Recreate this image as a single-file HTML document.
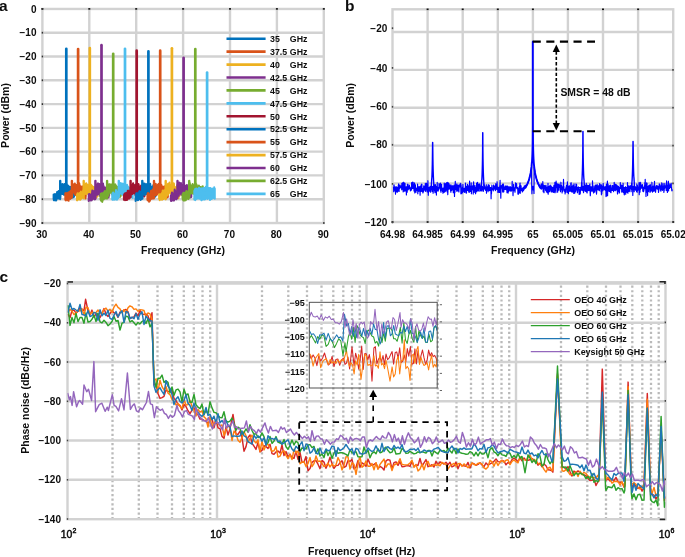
<!DOCTYPE html>
<html><head><meta charset="utf-8"><style>
html,body{margin:0;padding:0;background:#fff;width:685px;height:557px;overflow:hidden}
svg{display:block;filter:blur(0.4px)}
text{font-family:"Liberation Sans", sans-serif;fill:#0d0d0d;stroke:#0d0d0d}
</style></head><body>
<svg width="685" height="557" viewBox="0 0 685 557">
<rect width="685" height="557" fill="#fff"/>
<line x1="89.3" y1="8.95" x2="89.3" y2="223.0" stroke="#d2d2d2" stroke-width="2.4"/>
<line x1="136.2" y1="8.95" x2="136.2" y2="223.0" stroke="#d2d2d2" stroke-width="2.4"/>
<line x1="183.1" y1="8.95" x2="183.1" y2="223.0" stroke="#d2d2d2" stroke-width="2.4"/>
<line x1="230" y1="8.95" x2="230" y2="223.0" stroke="#d2d2d2" stroke-width="2.4"/>
<line x1="276.9" y1="8.95" x2="276.9" y2="223.0" stroke="#d2d2d2" stroke-width="2.4"/>
<line x1="42.4" y1="32.7" x2="323.8" y2="32.7" stroke="#d2d2d2" stroke-width="2.4"/>
<line x1="42.4" y1="56.5" x2="323.8" y2="56.5" stroke="#d2d2d2" stroke-width="2.4"/>
<line x1="42.4" y1="80.3" x2="323.8" y2="80.3" stroke="#d2d2d2" stroke-width="2.4"/>
<line x1="42.4" y1="104.1" x2="323.8" y2="104.1" stroke="#d2d2d2" stroke-width="2.4"/>
<line x1="42.4" y1="127.9" x2="323.8" y2="127.9" stroke="#d2d2d2" stroke-width="2.4"/>
<line x1="42.4" y1="151.6" x2="323.8" y2="151.6" stroke="#d2d2d2" stroke-width="2.4"/>
<line x1="42.4" y1="175.4" x2="323.8" y2="175.4" stroke="#d2d2d2" stroke-width="2.4"/>
<line x1="42.4" y1="199.2" x2="323.8" y2="199.2" stroke="#d2d2d2" stroke-width="2.4"/>
<rect x="42.4" y="8.95" width="281.4" height="214.1" fill="none" stroke="#d2d2d2" stroke-width="2.4"/>
<polygon points="53.6,194.5 53.9,194.8 54.2,194.9 54.5,194.4 54.8,195 55,193.9 55.3,194.3 55.6,194.5 55.9,195.9 56.2,196.5 56.5,196.4 56.8,195.8 57.1,191.9 57.4,194.8 57.7,192.1 58,193.7 58.3,193.1 58.6,190.9 58.9,192.1 59.2,192.7 59.5,192 59.8,193.4 60.1,190.6 60.4,191.2 60.7,186.1 61,184.6 61.3,185.3 61.6,185.6 61.9,185.5 62.2,183.9 62.5,185.2 62.8,185.3 63.1,186 63.4,184.5 63.7,186.8 64,184.7 64.3,185.9 64.6,184.1 64.8,185.8 65.1,185.7 65.4,185.9 65.7,185 66,185.6 66.3,185.4 66.6,184.2 66.9,185.4 67.2,185.8 67.5,185.4 67.8,186.8 68.1,187.2 68.4,185.7 68.7,187.6 69,188.7 69.3,187.6 69.6,188 69.9,187 70.2,188.9 70.5,187.8 70.8,187.5 71.1,186.8 71.4,187.7 71.7,187.9 72,189 72.3,190.1 72.6,189.7 72.9,188.7 73.2,187.7 73.5,186.5 73.8,187.9 74.1,188 74.1,196.7 73.8,195.9 73.5,194.1 73.2,197.3 72.9,194.8 72.6,194.8 72.3,194.7 72,195.3 71.7,197.8 71.4,196.3 71.1,195.4 70.8,196.6 70.5,196.8 70.2,195.7 69.9,195.1 69.6,195.9 69.3,195.1 69,196.3 68.7,193.2 68.4,193.8 68.1,195 67.8,192.4 67.5,192.2 67.2,191.7 66.9,192.1 66.6,192.1 66.3,193.3 66,194 65.7,192.9 65.4,193.1 65.1,191.2 64.8,193.2 64.6,192.1 64.3,192.9 64,194.9 63.7,193.6 63.4,191.6 63.1,193 62.8,194.1 62.5,193.3 62.2,193.5 61.9,192.1 61.6,192.1 61.3,192.2 61,194.1 60.7,190.7 60.4,197.4 60.1,199.2 59.8,197.5 59.5,197.5 59.2,197.7 58.9,196.6 58.6,198.4 58.3,198.4 58,198.1 57.7,197.4 57.4,198.1 57.1,197.8 56.8,198.9 56.5,199.5 56.2,200.6 55.9,199.7 55.6,198.5 55.3,200.2 55,198.8 54.8,199.9 54.5,197.8 54.2,200.3 53.9,200.2 53.6,198.9" fill="#0072BD" stroke="#0072BD" stroke-width="2.0" stroke-linejoin="round"/>
<line x1="60.2" y1="180.9" x2="60.2" y2="192.1" stroke="#0072BD" stroke-width="2.4" stroke-linecap="round"/>
<line x1="66.3" y1="48.8" x2="66.3" y2="189.7" stroke="#0072BD" stroke-width="2.7" stroke-linecap="round"/>
<polygon points="65.3,193.3 65.6,194.5 65.9,195.1 66.2,193.1 66.5,193.4 66.8,195.2 67.1,195.1 67.4,194.9 67.7,195.9 68,192.7 68.3,195.6 68.6,193 68.9,192.3 69.1,194 69.4,192.1 69.7,192.9 70,192.7 70.3,193.3 70.6,190.7 70.9,191.8 71.2,192.6 71.5,191.4 71.8,192.2 72.1,190.8 72.4,185 72.7,186.9 73,184.4 73.3,184.8 73.6,184.5 73.9,185.9 74.2,186.8 74.5,184.9 74.8,183.4 75.1,186.6 75.4,184.5 75.7,185.4 76,187.2 76.3,185.1 76.6,185.7 76.9,186.3 77.2,185.6 77.5,187.2 77.8,185.5 78.1,186.5 78.4,186.5 78.7,185.2 79,185 79.2,183.3 79.5,184.5 79.8,185.4 80.1,185.9 80.4,187.9 80.7,188.1 81,187.8 81.3,188.5 81.6,191.3 81.9,186.4 82.2,189.1 82.5,186.6 82.8,187.7 83.1,187.8 83.4,187.2 83.7,188.9 84,188.5 84.3,189.2 84.6,187.8 84.9,186 85.2,188.3 85.5,187.4 85.8,187.5 85.8,195.7 85.5,198.4 85.2,194.8 84.9,194.1 84.6,197.1 84.3,195.8 84,194.5 83.7,195.1 83.4,195.4 83.1,194.8 82.8,195.7 82.5,195.5 82.2,196.7 81.9,195.6 81.6,196.2 81.3,197.8 81,198 80.7,194.4 80.4,195.6 80.1,192 79.8,194.3 79.5,192.9 79.2,194.3 79,192.4 78.7,193.6 78.4,193.7 78.1,193.5 77.8,192.4 77.5,192.3 77.2,193.8 76.9,194.4 76.6,192.8 76.3,192.7 76,195.1 75.7,191.9 75.4,193.9 75.1,194.6 74.8,191.2 74.5,191.9 74.2,191.9 73.9,191.2 73.6,191.8 73.3,192 73,192.9 72.7,191.8 72.4,193.4 72.1,196.8 71.8,197.5 71.5,197.9 71.2,198.1 70.9,197.6 70.6,198.1 70.3,198.9 70,197.7 69.7,197.1 69.4,197.5 69.1,196.8 68.9,198.2 68.6,200.8 68.3,198.9 68,199.9 67.7,200.1 67.4,199.5 67.1,199.2 66.8,199.6 66.5,199.2 66.2,199.4 65.9,200.6 65.6,200.1 65.3,199.8" fill="#D95319" stroke="#D95319" stroke-width="2.0" stroke-linejoin="round"/>
<line x1="71.9" y1="180.9" x2="71.9" y2="192.1" stroke="#D95319" stroke-width="2.4" stroke-linecap="round"/>
<line x1="78.1" y1="49" x2="78.1" y2="189.7" stroke="#D95319" stroke-width="2.7" stroke-linecap="round"/>
<polygon points="77,194.4 77.3,194.7 77.6,193.2 77.9,194.5 78.2,195.1 78.5,196.4 78.8,193.4 79.1,193.7 79.4,194.2 79.7,194.7 80,192.8 80.3,194.5 80.6,192.8 80.9,191.5 81.2,192.5 81.5,192.2 81.8,192.5 82.1,192.3 82.4,193.8 82.7,193 83,192.9 83.2,190.5 83.5,192.7 83.8,192.1 84.1,184.9 84.4,185.7 84.7,186.5 85,186.8 85.3,184.1 85.6,184.3 85.9,185.1 86.2,183.3 86.5,186.1 86.8,185.4 87.1,184.4 87.4,186.3 87.7,185.1 88,185.2 88.3,185.7 88.6,185.2 88.9,184.9 89.2,184.8 89.5,187.2 89.8,187.5 90.1,184.5 90.4,185.6 90.7,185.8 91,184.7 91.3,185.2 91.6,186.7 91.9,185.6 92.2,187.7 92.5,186.6 92.8,186.6 93.1,187.3 93.3,188.2 93.6,189.2 93.9,187 94.2,187.6 94.5,189.7 94.8,187.6 95.1,188.2 95.4,187.6 95.7,188.8 96,187.3 96.3,186.4 96.6,186.4 96.9,188.1 97.2,185.1 97.5,186.1 97.5,196.3 97.2,195.8 96.9,196.9 96.6,196.1 96.3,195 96,197.7 95.7,194.8 95.4,196.9 95.1,194.5 94.8,195.2 94.5,196.5 94.2,194.6 93.9,195.9 93.6,197.2 93.3,196 93.1,195.8 92.8,196.2 92.5,194.5 92.2,196.9 91.9,194 91.6,192.9 91.3,193.6 91,190.4 90.7,193.5 90.4,194.6 90.1,192 89.8,194.3 89.5,192.4 89.2,192.7 88.9,190.8 88.6,192.9 88.3,192.8 88,192.5 87.7,193 87.4,193.3 87.1,193.8 86.8,191.2 86.5,194.2 86.2,193 85.9,192.2 85.6,191.2 85.3,193.8 85,194 84.7,192.5 84.4,193 84.1,190.6 83.8,198.6 83.5,197.3 83.2,197.9 83,196.9 82.7,196.6 82.4,197.8 82.1,197.4 81.8,197.8 81.5,196.6 81.2,198.7 80.9,197.5 80.6,195.8 80.3,199.8 80,198.6 79.7,199.2 79.4,199.5 79.1,199.1 78.8,198.2 78.5,197.5 78.2,199.6 77.9,197.6 77.6,198.9 77.3,199.4 77,200.4" fill="#EDB120" stroke="#EDB120" stroke-width="2.0" stroke-linejoin="round"/>
<line x1="83.7" y1="180.9" x2="83.7" y2="192.1" stroke="#EDB120" stroke-width="2.4" stroke-linecap="round"/>
<line x1="89.8" y1="48.1" x2="89.8" y2="189.7" stroke="#EDB120" stroke-width="2.7" stroke-linecap="round"/>
<polygon points="88.7,194.3 89,194.9 89.3,195.8 89.6,194.1 89.9,195 90.2,194.5 90.5,195.3 90.8,195.6 91.1,194.5 91.4,196.1 91.7,195.2 92,193.5 92.3,190.5 92.6,191.7 92.9,192.9 93.2,192.2 93.5,192.1 93.8,192.2 94.1,191.1 94.4,192.1 94.7,191.4 95,194 95.3,190.9 95.6,193.2 95.9,186.6 96.2,186.3 96.5,184.8 96.8,185 97.1,186.7 97.4,183.4 97.6,185.2 97.9,185.3 98.2,183.4 98.5,187.1 98.8,186.9 99.1,184.5 99.4,186.9 99.7,183.9 100,184.9 100.3,184.3 100.6,185.7 100.9,186.5 101.2,184.5 101.5,186.4 101.8,185.8 102.1,185.5 102.4,186.6 102.7,185.5 103,183.4 103.3,186.2 103.6,186.1 103.9,187.9 104.2,187.2 104.5,187.5 104.8,188.6 105.1,188.1 105.4,187.6 105.7,189.3 106,189.2 106.3,188.1 106.6,187.7 106.9,188 107.2,188.2 107.5,188.1 107.7,187.7 108,187.5 108.3,188 108.6,187.2 108.9,187.3 109.2,187.5 109.2,195.2 108.9,195.4 108.6,197.4 108.3,196.1 108,195.5 107.7,196.9 107.5,196.2 107.2,196.7 106.9,196.1 106.6,195.5 106.3,197.9 106,196.3 105.7,195.6 105.4,195.7 105.1,196.2 104.8,196.7 104.5,195.8 104.2,195.8 103.9,196.8 103.6,193.6 103.3,192.9 103,192.9 102.7,191.4 102.4,192.9 102.1,192.9 101.8,192.8 101.5,194.8 101.2,193.2 100.9,191.3 100.6,194.4 100.3,193.9 100,193.9 99.7,195.8 99.4,193.2 99.1,193.8 98.8,192 98.5,193.9 98.2,193.9 97.9,192.7 97.6,192.8 97.4,193.1 97.1,194.8 96.8,193.8 96.5,193.6 96.2,193.6 95.9,192.4 95.6,198.3 95.3,199.2 95,197.6 94.7,198.7 94.4,199.4 94.1,198.5 93.8,197.5 93.5,198.7 93.2,196.9 92.9,196.9 92.6,197.8 92.3,198.4 92,199.8 91.7,200.3 91.4,199.2 91.1,198.3 90.8,200.6 90.5,199.5 90.2,199.8 89.9,199.7 89.6,200.3 89.3,198.1 89,198.2 88.7,201" fill="#7E2F8E" stroke="#7E2F8E" stroke-width="2.0" stroke-linejoin="round"/>
<line x1="95.4" y1="180.9" x2="95.4" y2="192.1" stroke="#7E2F8E" stroke-width="2.4" stroke-linecap="round"/>
<line x1="101.5" y1="45.2" x2="101.5" y2="189.7" stroke="#7E2F8E" stroke-width="2.7" stroke-linecap="round"/>
<polygon points="100.5,195.2 100.8,193.8 101.1,194.2 101.4,193.9 101.7,193.4 101.9,196.1 102.2,194.6 102.5,194.1 102.8,195.8 103.1,193.1 103.4,194.2 103.7,192.8 104,192.3 104.3,192.8 104.6,191.7 104.9,191 105.2,192.1 105.5,191.5 105.8,191.7 106.1,191.7 106.4,193.8 106.7,192.1 107,193.9 107.3,192.7 107.6,187.8 107.9,184.5 108.2,186.1 108.5,184.6 108.8,185.6 109.1,184.7 109.4,184.2 109.7,185.1 110,186 110.3,184.5 110.6,185.6 110.9,185.2 111.2,185.5 111.5,186.5 111.7,185.6 112,184.3 112.3,186.4 112.6,186.1 112.9,184.3 113.2,184.9 113.5,184.3 113.8,184.2 114.1,186.3 114.4,186.2 114.7,185.1 115,185.3 115.3,184.4 115.6,188.3 115.9,185.4 116.2,187.7 116.5,186.2 116.8,188.8 117.1,187.3 117.4,189.6 117.7,187.1 118,188 118.3,187.1 118.6,187.3 118.9,188.2 119.2,186.6 119.5,188.6 119.8,188 120.1,189.5 120.4,188.2 120.7,186.8 121,187 121,193.4 120.7,195.8 120.4,192.9 120.1,196.8 119.8,194.9 119.5,196 119.2,195.7 118.9,196.7 118.6,196.6 118.3,196 118,195.4 117.7,196.5 117.4,197.2 117.1,196.5 116.8,195.5 116.5,195.8 116.2,195.4 115.9,193.5 115.6,194.4 115.3,193.5 115,193.2 114.7,193.8 114.4,192.1 114.1,192.6 113.8,193.8 113.5,193.1 113.2,193.3 112.9,192.3 112.6,194.4 112.3,192.4 112,194.4 111.7,192 111.5,193 111.2,191.2 110.9,191.4 110.6,192.8 110.3,190.7 110,192.8 109.7,192 109.4,192.5 109.1,191 108.8,192.2 108.5,195.7 108.2,192.8 107.9,192.4 107.6,193.2 107.3,198.5 107,197.9 106.7,197.2 106.4,196.9 106.1,198.6 105.8,197.9 105.5,196.4 105.2,196.8 104.9,198.4 104.6,197.4 104.3,197.1 104,198.9 103.7,199.3 103.4,197.3 103.1,199.6 102.8,199.9 102.5,200.8 102.2,201.9 101.9,198.2 101.7,199 101.4,198 101.1,200.8 100.8,198.8 100.5,199.5" fill="#77AC30" stroke="#77AC30" stroke-width="2.0" stroke-linejoin="round"/>
<line x1="107.1" y1="180.9" x2="107.1" y2="192.1" stroke="#77AC30" stroke-width="2.4" stroke-linecap="round"/>
<line x1="113.2" y1="53.8" x2="113.2" y2="189.7" stroke="#77AC30" stroke-width="2.7" stroke-linecap="round"/>
<polygon points="112.2,194.7 112.5,193.2 112.8,193.7 113.1,192.4 113.4,193.9 113.7,196.6 114,194.7 114.3,193.7 114.6,196.3 114.9,195.3 115.2,195.1 115.5,196.9 115.8,191.8 116,190 116.3,194 116.6,193.4 116.9,192 117.2,191.7 117.5,191.8 117.8,192.4 118.1,192.7 118.4,193.9 118.7,190.1 119,190.7 119.3,186.1 119.6,185.5 119.9,185.7 120.2,185.9 120.5,186.6 120.8,183 121.1,185.7 121.4,184.7 121.7,185.6 122,185.1 122.3,183.8 122.6,185.3 122.9,183.8 123.2,186.1 123.5,184.7 123.8,183.9 124.1,184.6 124.4,186.1 124.7,186.4 125,185.8 125.3,186.1 125.6,185.1 125.9,185.6 126.1,186.2 126.4,186.7 126.7,186.1 127,184.7 127.3,187.4 127.6,187.1 127.9,186.5 128.2,187.4 128.5,189.4 128.8,188.1 129.1,189.3 129.4,187.7 129.7,189.6 130,187.9 130.3,187.7 130.6,187.2 130.9,187.8 131.2,185 131.5,188.3 131.8,187 132.1,188.3 132.4,188.8 132.7,188.3 132.7,197.9 132.4,196.7 132.1,195.7 131.8,196.9 131.5,196.5 131.2,196.7 130.9,194.6 130.6,196.4 130.3,196.3 130,196.4 129.7,196 129.4,196.9 129.1,193.9 128.8,195.4 128.5,195.8 128.2,195.2 127.9,195.2 127.6,195.6 127.3,195.5 127,192.9 126.7,194.9 126.4,192.3 126.1,193.8 125.9,194.4 125.6,191.1 125.3,192.4 125,194.4 124.7,195 124.4,192.2 124.1,193.1 123.8,194.5 123.5,192.1 123.2,193.4 122.9,194.9 122.6,193.4 122.3,193.5 122,192.7 121.7,191.8 121.4,194 121.1,192.2 120.8,192.9 120.5,193.2 120.2,192.9 119.9,192.7 119.6,192.9 119.3,191.3 119,196.8 118.7,195.4 118.4,197.6 118.1,198.2 117.8,197.6 117.5,197.7 117.2,199.2 116.9,199.7 116.6,198.1 116.3,198.5 116,197.5 115.8,196.4 115.5,197.9 115.2,199.6 114.9,199.6 114.6,198.8 114.3,199.6 114,198.8 113.7,198.5 113.4,198.5 113.1,197.4 112.8,199.8 112.5,198.7 112.2,199.6" fill="#4DBEEE" stroke="#4DBEEE" stroke-width="2.0" stroke-linejoin="round"/>
<line x1="118.8" y1="180.9" x2="118.8" y2="192.1" stroke="#4DBEEE" stroke-width="2.4" stroke-linecap="round"/>
<line x1="125" y1="48.8" x2="125" y2="189.7" stroke="#4DBEEE" stroke-width="2.7" stroke-linecap="round"/>
<polygon points="123.9,196 124.2,194.3 124.5,196.4 124.8,193.6 125.1,194.5 125.4,193.8 125.7,195.7 126,192.9 126.3,193.2 126.6,193.5 126.9,194.6 127.2,193.6 127.5,192.2 127.8,190.8 128.1,193.9 128.4,192.1 128.7,190.7 129,191.2 129.3,191.2 129.6,191.3 129.9,191.9 130.1,193.1 130.4,191.6 130.7,192.5 131,185.7 131.3,185.6 131.6,185.4 131.9,186.5 132.2,184.7 132.5,185.2 132.8,184.2 133.1,183.3 133.4,184.6 133.7,185.3 134,186.8 134.3,185.5 134.6,185.2 134.9,185.1 135.2,185.4 135.5,186 135.8,184.5 136.1,185.3 136.4,184.3 136.7,186.2 137,184.1 137.3,184.1 137.6,186.6 137.9,185.5 138.2,185.8 138.5,184.1 138.8,185 139.1,188.5 139.4,187.8 139.7,188.3 140,187.8 140.2,188.3 140.5,187.6 140.8,186.5 141.1,185.4 141.4,186.9 141.7,185.8 142,189.9 142.3,187.1 142.6,187 142.9,187.3 143.2,187.9 143.5,190.2 143.8,188.9 144.1,188 144.4,187.4 144.4,196.6 144.1,196.6 143.8,194.6 143.5,195 143.2,194.5 142.9,195 142.6,195.7 142.3,194.8 142,196.7 141.7,193.8 141.4,196 141.1,196.5 140.8,195 140.5,194.7 140.2,194.5 140,196.3 139.7,195.6 139.4,196.2 139.1,195.3 138.8,192 138.5,193.3 138.2,191.8 137.9,194.2 137.6,191.4 137.3,193.5 137,194.3 136.7,193 136.4,193.3 136.1,192.7 135.8,192 135.5,195.1 135.2,192.3 134.9,192 134.6,193.5 134.3,191.3 134,191.7 133.7,191.1 133.4,192.7 133.1,193 132.8,190.3 132.5,193.9 132.2,193.9 131.9,193.1 131.6,191.9 131.3,194 131,192.7 130.7,197.2 130.4,196.8 130.1,197.7 129.9,195.6 129.6,197.3 129.3,195.3 129,198.7 128.7,197.2 128.4,197.4 128.1,197.9 127.8,198.1 127.5,197.2 127.2,199.8 126.9,196.6 126.6,199.9 126.3,199.7 126,199 125.7,200.1 125.4,199.8 125.1,200.2 124.8,198.6 124.5,199.7 124.2,199.4 123.9,199.7" fill="#A2142F" stroke="#A2142F" stroke-width="2.0" stroke-linejoin="round"/>
<line x1="130.6" y1="180.9" x2="130.6" y2="192.1" stroke="#A2142F" stroke-width="2.4" stroke-linecap="round"/>
<line x1="136.7" y1="50.7" x2="136.7" y2="189.7" stroke="#A2142F" stroke-width="2.7" stroke-linecap="round"/>
<polygon points="135.6,195.4 135.9,194.5 136.2,193.4 136.5,193.3 136.8,194.6 137.1,193.3 137.4,194.7 137.7,194.4 138,193.4 138.3,194 138.6,194.1 138.9,194.9 139.2,191.7 139.5,191.1 139.8,192.5 140.1,192 140.4,192.4 140.7,192.3 141,191.7 141.3,192.8 141.6,191.8 141.9,194 142.2,194.3 142.5,190.4 142.8,184.7 143.1,185.1 143.4,185.5 143.7,183.5 144,185.3 144.3,184.8 144.5,184.5 144.8,183.6 145.1,185.7 145.4,185.8 145.7,185.7 146,185.3 146.3,184.2 146.6,186.4 146.9,184.3 147.2,186.2 147.5,184.5 147.8,186.6 148.1,186.2 148.4,184.6 148.7,184.9 149,184.2 149.3,184.5 149.6,186.2 149.9,185.5 150.2,183.8 150.5,186.6 150.8,188 151.1,187.5 151.4,186.6 151.7,187.8 152,187.7 152.3,188.8 152.6,187 152.9,188.5 153.2,185.3 153.5,187.5 153.8,187 154.1,188 154.4,188 154.6,187 154.9,188.3 155.2,187.9 155.5,188 155.8,187.4 156.1,187.4 156.1,195.6 155.8,195.1 155.5,194.5 155.2,196.6 154.9,196.9 154.6,196.1 154.4,196.2 154.1,196.2 153.8,195.4 153.5,193 153.2,197.2 152.9,193.5 152.6,195.3 152.3,196.3 152,195.4 151.7,196.4 151.4,197.9 151.1,195.9 150.8,195.5 150.5,193.1 150.2,195.4 149.9,194.5 149.6,193.8 149.3,191.6 149,194 148.7,190.8 148.4,193.5 148.1,195.2 147.8,194.5 147.5,193.2 147.2,191.8 146.9,193.7 146.6,193.2 146.3,194 146,190.2 145.7,194.3 145.4,193.6 145.1,191.9 144.8,194.9 144.5,192.8 144.3,193.1 144,193.8 143.7,192.6 143.4,192.2 143.1,193.1 142.8,194.3 142.5,198.7 142.2,198.6 141.9,198.7 141.6,199.1 141.3,197.8 141,198.3 140.7,199.9 140.4,199.5 140.1,197.5 139.8,197.1 139.5,198.3 139.2,195.7 138.9,197.1 138.6,198.8 138.3,200.1 138,199.6 137.7,200.2 137.4,199.4 137.1,199.6 136.8,198.6 136.5,199.2 136.2,199.4 135.9,198.7 135.6,200.9" fill="#0072BD" stroke="#0072BD" stroke-width="2.0" stroke-linejoin="round"/>
<line x1="142.3" y1="180.9" x2="142.3" y2="192.1" stroke="#0072BD" stroke-width="2.4" stroke-linecap="round"/>
<line x1="148.4" y1="51.4" x2="148.4" y2="189.7" stroke="#0072BD" stroke-width="2.7" stroke-linecap="round"/>
<polygon points="147.4,194.6 147.7,193.6 148,193 148.3,195.3 148.6,195.2 148.8,195.2 149.1,195.3 149.4,195.2 149.7,194.5 150,193.8 150.3,195.3 150.6,194.1 150.9,191 151.2,190.7 151.5,191.7 151.8,192.7 152.1,192 152.4,192.1 152.7,189.6 153,192.2 153.3,191.6 153.6,192.6 153.9,193.8 154.2,191.5 154.5,186.5 154.8,185.4 155.1,186.1 155.4,187.4 155.7,183.7 156,185.8 156.3,185.8 156.6,185.5 156.9,185.5 157.2,185.6 157.5,186 157.8,184.7 158.1,186 158.4,184.2 158.6,183.9 158.9,185.6 159.2,186.9 159.5,186 159.8,187.3 160.1,185.4 160.4,184.4 160.7,185.6 161,185 161.3,184.8 161.6,185.5 161.9,186.3 162.2,186.7 162.5,187.6 162.8,187.1 163.1,188.2 163.4,188.2 163.7,187.1 164,186.5 164.3,186.3 164.6,189.4 164.9,187.5 165.2,186.8 165.5,188.8 165.8,187.1 166.1,186.8 166.4,187.4 166.7,188.5 167,188.9 167.3,186.5 167.6,189 167.9,188.3 167.9,197 167.6,193.5 167.3,196.2 167,195.4 166.7,196.1 166.4,198.3 166.1,194.5 165.8,195.4 165.5,194.1 165.2,196 164.9,196.1 164.6,195.8 164.3,194.9 164,194.4 163.7,194.4 163.4,195.3 163.1,196.4 162.8,194.3 162.5,197.3 162.2,191.4 161.9,194.4 161.6,194.4 161.3,190.9 161,193.1 160.7,193.7 160.4,192.9 160.1,191.8 159.8,193.7 159.5,193.2 159.2,192.6 158.9,191.9 158.6,193 158.4,191.6 158.1,191.8 157.8,191.8 157.5,192.6 157.2,193.7 156.9,194.8 156.6,192.8 156.3,193.7 156,192.6 155.7,195.1 155.4,194 155.1,193.1 154.8,192.3 154.5,193.2 154.2,197.5 153.9,198.5 153.6,198.4 153.3,196.4 153,197.7 152.7,198.5 152.4,197.4 152.1,198.6 151.8,198.7 151.5,196.9 151.2,197.4 150.9,194.9 150.6,199.2 150.3,197.3 150,200.6 149.7,198.1 149.4,201.4 149.1,201.6 148.8,198 148.6,199 148.3,199.7 148,199.2 147.7,200.4 147.4,199.5" fill="#D95319" stroke="#D95319" stroke-width="2.0" stroke-linejoin="round"/>
<line x1="154" y1="180.9" x2="154" y2="192.1" stroke="#D95319" stroke-width="2.4" stroke-linecap="round"/>
<line x1="160.2" y1="50.7" x2="160.2" y2="189.7" stroke="#D95319" stroke-width="2.7" stroke-linecap="round"/>
<polygon points="159.1,194.2 159.4,195.2 159.7,195 160,194.3 160.3,195.1 160.6,194.6 160.9,195.2 161.2,194.5 161.5,193.7 161.8,193.1 162.1,195.1 162.4,193.9 162.7,190.6 162.9,190.9 163.2,191.9 163.5,193.3 163.8,190.4 164.1,190.8 164.4,190.2 164.7,192.2 165,192 165.3,192.6 165.6,190.4 165.9,191.8 166.2,185.2 166.5,185.5 166.8,187.1 167.1,186.1 167.4,185.2 167.7,186.2 168,183.8 168.3,185.1 168.6,183.9 168.9,185.4 169.2,187.2 169.5,182.5 169.8,184.1 170.1,186.5 170.4,186.7 170.7,185.1 171,185 171.3,186.2 171.6,185.4 171.9,186.8 172.2,185.9 172.5,186.9 172.8,185.2 173,183.3 173.3,186.1 173.6,185.7 173.9,183.6 174.2,189 174.5,187.4 174.8,189.3 175.1,187.2 175.4,188.5 175.7,187.2 176,188.1 176.3,188.4 176.6,188.1 176.9,186.1 177.2,185 177.5,186.8 177.8,186.7 178.1,189 178.4,188.6 178.7,184.8 179,185.9 179.3,186.2 179.6,186.1 179.6,195.7 179.3,193.9 179,196.6 178.7,194.9 178.4,198.3 178.1,195 177.8,195.5 177.5,194.3 177.2,196.9 176.9,198 176.6,194.8 176.3,197.9 176,195.2 175.7,197.6 175.4,195 175.1,195 174.8,196.7 174.5,195.3 174.2,197.1 173.9,193.2 173.6,193.1 173.3,191.8 173,194.4 172.8,192.4 172.5,194.5 172.2,194.8 171.9,194.2 171.6,193.6 171.3,194.2 171,192.4 170.7,191.9 170.4,193 170.1,191.4 169.8,192.2 169.5,192 169.2,191.8 168.9,193 168.6,190.9 168.3,194.3 168,192.5 167.7,192.6 167.4,195.6 167.1,192.1 166.8,191.6 166.5,192 166.2,191.9 165.9,198.5 165.6,199.4 165.3,197.6 165,197.4 164.7,197.8 164.4,196.5 164.1,196.9 163.8,198.5 163.5,199.1 163.2,199.1 162.9,195.9 162.7,197.1 162.4,198.6 162.1,199.8 161.8,198.9 161.5,198.3 161.2,199.4 160.9,197.7 160.6,196.2 160.3,198.9 160,198.4 159.7,200.2 159.4,198.4 159.1,198.8" fill="#EDB120" stroke="#EDB120" stroke-width="2.0" stroke-linejoin="round"/>
<line x1="165.7" y1="180.9" x2="165.7" y2="192.1" stroke="#EDB120" stroke-width="2.4" stroke-linecap="round"/>
<line x1="171.9" y1="48.3" x2="171.9" y2="189.7" stroke="#EDB120" stroke-width="2.7" stroke-linecap="round"/>
<polygon points="170.8,195.7 171.1,196.8 171.4,194.4 171.7,194.6 172,192.4 172.3,194.5 172.6,195.3 172.9,193.5 173.2,194.8 173.5,194.3 173.8,195.3 174.1,195.4 174.4,193.4 174.7,189.6 175,192.8 175.3,192.4 175.6,191.8 175.9,191.4 176.2,192.5 176.5,192.6 176.8,192.2 177,192 177.3,193.6 177.6,193.1 177.9,183.6 178.2,185.8 178.5,187 178.8,186.1 179.1,182.6 179.4,186.5 179.7,185.7 180,187 180.3,184.9 180.6,184.1 180.9,182.9 181.2,185.1 181.5,186.8 181.8,186.4 182.1,185.5 182.4,185.8 182.7,185.9 183,184.7 183.3,186.4 183.6,185.5 183.9,182.6 184.2,185.5 184.5,186.3 184.8,186.5 185.1,185.9 185.4,185.8 185.7,186.7 186,187.3 186.3,186.9 186.6,188.1 186.9,184.9 187.1,186.5 187.4,187.3 187.7,186.4 188,187.4 188.3,188.5 188.6,188 188.9,187.3 189.2,185.6 189.5,187 189.8,187.9 190.1,187.3 190.4,187 190.7,189.8 191,187.4 191.3,186.3 191.3,196.9 191,195.8 190.7,194.6 190.4,192.5 190.1,197.5 189.8,195 189.5,196 189.2,194.4 188.9,197.2 188.6,195.5 188.3,196.3 188,196.6 187.7,196.4 187.4,194.8 187.1,193.8 186.9,197 186.6,194.9 186.3,194.1 186,193.7 185.7,191 185.4,193 185.1,192 184.8,193.2 184.5,193.8 184.2,193 183.9,191.9 183.6,191.7 183.3,192.5 183,193.4 182.7,192 182.4,193.3 182.1,193.9 181.8,192.2 181.5,191.4 181.2,194.8 180.9,193.6 180.6,192.7 180.3,192.6 180,193.5 179.7,192.7 179.4,192.6 179.1,191.1 178.8,195.8 178.5,191.2 178.2,191.2 177.9,191.9 177.6,196.8 177.3,198.4 177,197.1 176.8,198.6 176.5,199.1 176.2,199.4 175.9,198.2 175.6,197.3 175.3,196.7 175,196.8 174.7,197 174.4,196 174.1,200.4 173.8,199 173.5,197.5 173.2,200.6 172.9,200.5 172.6,199.6 172.3,197.9 172,197.8 171.7,199.3 171.4,200.3 171.1,201 170.8,199.4" fill="#7E2F8E" stroke="#7E2F8E" stroke-width="2.0" stroke-linejoin="round"/>
<line x1="177.5" y1="180.9" x2="177.5" y2="192.1" stroke="#7E2F8E" stroke-width="2.4" stroke-linecap="round"/>
<line x1="183.6" y1="57.8" x2="183.6" y2="189.7" stroke="#7E2F8E" stroke-width="2.7" stroke-linecap="round"/>
<polygon points="182.5,194.3 182.8,194.7 183.1,194.3 183.4,192.8 183.7,193.5 184,193.7 184.3,197.3 184.6,195.6 184.9,192.8 185.2,195.6 185.5,194.3 185.8,194.1 186.1,192.2 186.4,191 186.7,192 187,192.7 187.3,192.1 187.6,192.6 187.9,191.4 188.2,192.8 188.5,193.9 188.8,191.2 189.1,191.7 189.4,191.4 189.7,183.1 190,185.8 190.3,185 190.6,185.3 190.9,187.6 191.2,185.7 191.4,187.2 191.7,185.5 192,186.7 192.3,186.8 192.6,184 192.9,186 193.2,185.8 193.5,185.2 193.8,187.8 194.1,186.5 194.4,186.4 194.7,185.1 195,185.3 195.3,186.2 195.6,183.6 195.9,186.1 196.2,186.4 196.5,184.5 196.8,185.7 197.1,186 197.4,186.5 197.7,188.4 198,188.2 198.3,188.4 198.6,187.1 198.9,185.6 199.2,186.3 199.5,187.2 199.8,187.9 200.1,188.1 200.4,186.9 200.7,188.3 201,188 201.3,189.2 201.5,187.5 201.8,188.2 202.1,188.7 202.4,186.5 202.7,186.2 203,188.3 203,194.8 202.7,194.7 202.4,196.8 202.1,195.7 201.8,196.3 201.5,195.5 201.3,196.6 201,195.2 200.7,195.9 200.4,196.1 200.1,198 199.8,195.7 199.5,197.2 199.2,195.4 198.9,195.4 198.6,195.4 198.3,195.8 198,196.2 197.7,193.3 197.4,193.7 197.1,192.6 196.8,191.6 196.5,193.7 196.2,192.5 195.9,192.9 195.6,192.4 195.3,192.7 195,192.4 194.7,193.8 194.4,193.7 194.1,194 193.8,193.7 193.5,191.6 193.2,193.1 192.9,191.6 192.6,193.6 192.3,193 192,192.1 191.7,192.7 191.4,193.2 191.2,193.3 190.9,193 190.6,193 190.3,193.7 190,192 189.7,192.1 189.4,197.5 189.1,196.2 188.8,198.1 188.5,199 188.2,197.5 187.9,197.7 187.6,196.8 187.3,198.8 187,195.4 186.7,197.7 186.4,197.6 186.1,196.2 185.8,200.2 185.5,197.5 185.2,197.6 184.9,200.4 184.6,199.7 184.3,199.2 184,199.3 183.7,200.6 183.4,200.2 183.1,199.7 182.8,199.7 182.5,197.6" fill="#77AC30" stroke="#77AC30" stroke-width="2.0" stroke-linejoin="round"/>
<line x1="189.2" y1="180.9" x2="189.2" y2="192.1" stroke="#77AC30" stroke-width="2.4" stroke-linecap="round"/>
<line x1="195.3" y1="49" x2="195.3" y2="189.7" stroke="#77AC30" stroke-width="2.7" stroke-linecap="round"/>
<polygon points="194.3,190.8 194.6,190.6 194.9,189.6 195.2,189.1 195.5,188.7 195.7,189.9 196,190.5 196.3,190.3 196.6,188.6 196.9,190.3 197.2,190.2 197.5,191.4 197.8,189.7 198.1,188.9 198.4,188.9 198.7,189.1 199,187.9 199.3,187.7 199.6,189.1 199.9,189.5 200.2,190.6 200.5,188.9 200.8,191.6 201.1,188.5 201.4,189.1 201.7,188.5 202,188.3 202.3,188.5 202.6,188.4 202.9,189.9 203.2,190.1 203.5,189.5 203.8,188 204.1,190 204.4,188 204.7,188.3 205,190.2 205.3,190.7 205.5,188.2 205.8,186.8 206.1,189.9 206.4,187.3 206.7,190.5 207,187.8 207.3,190.1 207.6,189.1 207.9,189.6 208.2,188.9 208.5,188 208.8,190.9 209.1,188.3 209.4,188.1 209.7,190.2 210,190.4 210.3,188.1 210.6,189.6 210.9,190.6 211.2,189.6 211.5,191.7 211.8,190.5 212.1,188.5 212.4,190.9 212.7,190.1 213,189 213.3,189.7 213.6,190 213.9,190 214.2,187.2 214.5,189.1 214.8,188.8 214.8,198.7 214.5,195.4 214.2,197.5 213.9,198.2 213.6,196.6 213.3,196.7 213,196.3 212.7,197.5 212.4,195.8 212.1,197.9 211.8,198.9 211.5,197 211.2,197.4 210.9,199 210.6,199.3 210.3,198.6 210,200.1 209.7,196.8 209.4,198.4 209.1,197.3 208.8,197.4 208.5,197 208.2,197.7 207.9,198.6 207.6,199 207.3,196.7 207,198.3 206.7,197.4 206.4,197.3 206.1,196.9 205.8,197.7 205.5,198.5 205.3,199.3 205,198 204.7,196.6 204.4,196.6 204.1,199.6 203.8,195.9 203.5,198.9 203.2,198.5 202.9,195.4 202.6,198.8 202.3,198 202,199.8 201.7,198.5 201.4,200.3 201.1,198.6 200.8,197.9 200.5,197.5 200.2,197.1 199.9,197 199.6,198.8 199.3,197.6 199,197.9 198.7,196.5 198.4,196.7 198.1,196.7 197.8,198.6 197.5,196.5 197.2,197.3 196.9,198.6 196.6,197.2 196.3,197.8 196,199.3 195.7,198.2 195.5,199.3 195.2,200.1 194.9,198.3 194.6,198.2 194.3,199.6" fill="#4DBEEE" stroke="#4DBEEE" stroke-width="2.0" stroke-linejoin="round"/>
<line x1="207.1" y1="72.6" x2="207.1" y2="189.7" stroke="#4DBEEE" stroke-width="2.7" stroke-linecap="round"/>
<rect x="41.4" y="8.1" width="2" height="1.6" fill="#111"/>
<rect x="41.6" y="222.2" width="1.6" height="1.6" fill="#333"/>
<rect x="88.3" y="8.1" width="2" height="1.6" fill="#111"/>
<rect x="135.2" y="8.1" width="2" height="1.6" fill="#111"/>
<rect x="182.1" y="8.1" width="2" height="1.6" fill="#111"/>
<rect x="229" y="8.1" width="2" height="1.6" fill="#111"/>
<rect x="275.9" y="8.1" width="2" height="1.6" fill="#111"/>
<rect x="322.8" y="8.1" width="2" height="1.6" fill="#111"/>
<rect x="323" y="222.2" width="1.6" height="1.6" fill="#333"/>
<rect x="41.7" y="8" width="1.4" height="1.8" fill="#333"/>
<rect x="41.7" y="31.8" width="1.4" height="1.8" fill="#333"/>
<rect x="41.7" y="55.6" width="1.4" height="1.8" fill="#333"/>
<rect x="41.7" y="79.4" width="1.4" height="1.8" fill="#333"/>
<rect x="41.7" y="103.2" width="1.4" height="1.8" fill="#333"/>
<rect x="41.7" y="127" width="1.4" height="1.8" fill="#333"/>
<rect x="41.7" y="150.7" width="1.4" height="1.8" fill="#333"/>
<rect x="41.7" y="174.5" width="1.4" height="1.8" fill="#333"/>
<rect x="41.7" y="198.3" width="1.4" height="1.8" fill="#333"/>
<rect x="41.7" y="222.1" width="1.4" height="1.8" fill="#333"/>
<line x1="226.5" y1="38.7" x2="265.6" y2="38.7" stroke="#0072BD" stroke-width="2.6"/>
<text x="270" y="41.9" font-size="8.8" text-anchor="start" font-weight="bold" stroke-width="0" >35</text>
<text x="289.8" y="41.9" font-size="8.8" text-anchor="start" font-weight="bold" stroke-width="0" >GHz</text>
<line x1="226.5" y1="51.6" x2="265.6" y2="51.6" stroke="#D95319" stroke-width="2.6"/>
<text x="270" y="54.8" font-size="8.8" text-anchor="start" font-weight="bold" stroke-width="0" >37.5</text>
<text x="289.8" y="54.8" font-size="8.8" text-anchor="start" font-weight="bold" stroke-width="0" >GHz</text>
<line x1="226.5" y1="64.6" x2="265.6" y2="64.6" stroke="#EDB120" stroke-width="2.6"/>
<text x="270" y="67.8" font-size="8.8" text-anchor="start" font-weight="bold" stroke-width="0" >40</text>
<text x="289.8" y="67.8" font-size="8.8" text-anchor="start" font-weight="bold" stroke-width="0" >GHz</text>
<line x1="226.5" y1="77.5" x2="265.6" y2="77.5" stroke="#7E2F8E" stroke-width="2.6"/>
<text x="270" y="80.7" font-size="8.8" text-anchor="start" font-weight="bold" stroke-width="0" >42.5</text>
<text x="289.8" y="80.7" font-size="8.8" text-anchor="start" font-weight="bold" stroke-width="0" >GHz</text>
<line x1="226.5" y1="90.4" x2="265.6" y2="90.4" stroke="#77AC30" stroke-width="2.6"/>
<text x="270" y="93.6" font-size="8.8" text-anchor="start" font-weight="bold" stroke-width="0" >45</text>
<text x="289.8" y="93.6" font-size="8.8" text-anchor="start" font-weight="bold" stroke-width="0" >GHz</text>
<line x1="226.5" y1="103.4" x2="265.6" y2="103.4" stroke="#4DBEEE" stroke-width="2.6"/>
<text x="270" y="106.6" font-size="8.8" text-anchor="start" font-weight="bold" stroke-width="0" >47.5</text>
<text x="289.8" y="106.6" font-size="8.8" text-anchor="start" font-weight="bold" stroke-width="0" >GHz</text>
<line x1="226.5" y1="116.3" x2="265.6" y2="116.3" stroke="#A2142F" stroke-width="2.6"/>
<text x="270" y="119.5" font-size="8.8" text-anchor="start" font-weight="bold" stroke-width="0" >50</text>
<text x="289.8" y="119.5" font-size="8.8" text-anchor="start" font-weight="bold" stroke-width="0" >GHz</text>
<line x1="226.5" y1="129.2" x2="265.6" y2="129.2" stroke="#0072BD" stroke-width="2.6"/>
<text x="270" y="132.4" font-size="8.8" text-anchor="start" font-weight="bold" stroke-width="0" >52.5</text>
<text x="289.8" y="132.4" font-size="8.8" text-anchor="start" font-weight="bold" stroke-width="0" >GHz</text>
<line x1="226.5" y1="142.1" x2="265.6" y2="142.1" stroke="#D95319" stroke-width="2.6"/>
<text x="270" y="145.3" font-size="8.8" text-anchor="start" font-weight="bold" stroke-width="0" >55</text>
<text x="289.8" y="145.3" font-size="8.8" text-anchor="start" font-weight="bold" stroke-width="0" >GHz</text>
<line x1="226.5" y1="155.1" x2="265.6" y2="155.1" stroke="#EDB120" stroke-width="2.6"/>
<text x="270" y="158.3" font-size="8.8" text-anchor="start" font-weight="bold" stroke-width="0" >57.5</text>
<text x="289.8" y="158.3" font-size="8.8" text-anchor="start" font-weight="bold" stroke-width="0" >GHz</text>
<line x1="226.5" y1="168" x2="265.6" y2="168" stroke="#7E2F8E" stroke-width="2.6"/>
<text x="270" y="171.2" font-size="8.8" text-anchor="start" font-weight="bold" stroke-width="0" >60</text>
<text x="289.8" y="171.2" font-size="8.8" text-anchor="start" font-weight="bold" stroke-width="0" >GHz</text>
<line x1="226.5" y1="180.9" x2="265.6" y2="180.9" stroke="#77AC30" stroke-width="2.6"/>
<text x="270" y="184.1" font-size="8.8" text-anchor="start" font-weight="bold" stroke-width="0" >62.5</text>
<text x="289.8" y="184.1" font-size="8.8" text-anchor="start" font-weight="bold" stroke-width="0" >GHz</text>
<line x1="226.5" y1="193.9" x2="265.6" y2="193.9" stroke="#4DBEEE" stroke-width="2.6"/>
<text x="270" y="197.1" font-size="8.8" text-anchor="start" font-weight="bold" stroke-width="0" >65</text>
<text x="289.8" y="197.1" font-size="8.8" text-anchor="start" font-weight="bold" stroke-width="0" >GHz</text>
<text x="36.5" y="12.5" font-size="10" text-anchor="end" font-weight="bold" stroke-width="0" >0</text>
<text x="36.5" y="36.3" font-size="10" text-anchor="end" font-weight="bold" stroke-width="0" >&#8722;10</text>
<text x="36.5" y="60.1" font-size="10" text-anchor="end" font-weight="bold" stroke-width="0" >&#8722;20</text>
<text x="36.5" y="83.9" font-size="10" text-anchor="end" font-weight="bold" stroke-width="0" >&#8722;30</text>
<text x="36.5" y="107.7" font-size="10" text-anchor="end" font-weight="bold" stroke-width="0" >&#8722;40</text>
<text x="36.5" y="131.5" font-size="10" text-anchor="end" font-weight="bold" stroke-width="0" >&#8722;50</text>
<text x="36.5" y="155.2" font-size="10" text-anchor="end" font-weight="bold" stroke-width="0" >&#8722;60</text>
<text x="36.5" y="179" font-size="10" text-anchor="end" font-weight="bold" stroke-width="0" >&#8722;70</text>
<text x="36.5" y="202.8" font-size="10" text-anchor="end" font-weight="bold" stroke-width="0" >&#8722;80</text>
<text x="36.5" y="226.6" font-size="10" text-anchor="end" font-weight="bold" stroke-width="0" >&#8722;90</text>
<text x="41.8" y="237.9" font-size="10" text-anchor="middle" font-weight="bold" stroke-width="0" >30</text>
<text x="88.7" y="237.9" font-size="10" text-anchor="middle" font-weight="bold" stroke-width="0" >40</text>
<text x="135.6" y="237.9" font-size="10" text-anchor="middle" font-weight="bold" stroke-width="0" >50</text>
<text x="182.5" y="237.9" font-size="10" text-anchor="middle" font-weight="bold" stroke-width="0" >60</text>
<text x="229.4" y="237.9" font-size="10" text-anchor="middle" font-weight="bold" stroke-width="0" >70</text>
<text x="276.3" y="237.9" font-size="10" text-anchor="middle" font-weight="bold" stroke-width="0" >80</text>
<text x="323.2" y="237.9" font-size="10" text-anchor="middle" font-weight="bold" stroke-width="0" >90</text>
<text x="183.1" y="253.5" font-size="10.5" text-anchor="middle" font-weight="bold" stroke-width="0" >Frequency (GHz)</text>
<text x="0" y="0" font-size="10.5" text-anchor="middle" font-weight="bold" stroke-width="0" transform="translate(9.0,115.5) rotate(-90)">Power (dBm)</text>
<text x="-1" y="11" font-size="15.5" text-anchor="start" font-weight="bold" stroke-width="0" >a</text>
<line x1="427.6" y1="9.3" x2="427.6" y2="222.0" stroke="#d2d2d2" stroke-width="2.4"/>
<line x1="462.7" y1="9.3" x2="462.7" y2="222.0" stroke="#d2d2d2" stroke-width="2.4"/>
<line x1="497.8" y1="9.3" x2="497.8" y2="222.0" stroke="#d2d2d2" stroke-width="2.4"/>
<line x1="532.9" y1="9.3" x2="532.9" y2="222.0" stroke="#d2d2d2" stroke-width="2.4"/>
<line x1="567.9" y1="9.3" x2="567.9" y2="222.0" stroke="#d2d2d2" stroke-width="2.4"/>
<line x1="603" y1="9.3" x2="603" y2="222.0" stroke="#d2d2d2" stroke-width="2.4"/>
<line x1="638.1" y1="9.3" x2="638.1" y2="222.0" stroke="#d2d2d2" stroke-width="2.4"/>
<line x1="392.5" y1="32" x2="673.2" y2="32" stroke="#d2d2d2" stroke-width="2.4"/>
<line x1="392.5" y1="69.9" x2="673.2" y2="69.9" stroke="#d2d2d2" stroke-width="2.4"/>
<line x1="392.5" y1="107.7" x2="673.2" y2="107.7" stroke="#d2d2d2" stroke-width="2.4"/>
<line x1="392.5" y1="145.6" x2="673.2" y2="145.6" stroke="#d2d2d2" stroke-width="2.4"/>
<line x1="392.5" y1="183.4" x2="673.2" y2="183.4" stroke="#d2d2d2" stroke-width="2.4"/>
<rect x="392.5" y="9.3" width="280.7" height="212.7" fill="none" stroke="#d2d2d2" stroke-width="2.4"/>
<polyline points="393.5,186.9 393.7,191.7 393.9,185.2 394.1,184.9 394.3,190 394.5,190.1 394.7,187.9 394.9,188.3 395.1,191.1 395.3,186.7 395.5,194.2 395.7,189.6 395.9,189.5 396.1,189.1 396.3,187.5 396.5,191.8 396.7,186.7 396.9,188.9 397.1,190.2 397.3,192.2 397.5,191.7 397.7,187.3 397.9,191.1 398.1,188.2 398.3,185.3 398.5,185.4 398.7,183.9 398.9,189.2 399.1,191.4 399.3,185.5 399.5,187.5 399.7,185.2 399.9,188.3 400.1,185 400.3,186 400.5,186.3 400.7,186.9 400.9,187.2 401.1,187.7 401.3,187.7 401.5,185.6 401.7,189.8 401.8,183.4 402,188.7 402.2,185.6 402.4,188.6 402.6,189.1 402.8,182.6 403,189.2 403.2,192 403.4,190.4 403.6,189.3 403.8,182.2 404,187.8 404.2,185.7 404.4,191.2 404.6,187.4 404.8,186.5 405,183.2 405.2,190.3 405.4,186.6 405.6,187.5 405.8,191.3 406,188.4 406.2,189.1 406.4,195 406.6,186.7 406.8,186.8 407,189.6 407.2,192.2 407.4,184.2 407.6,187.6 407.8,185.5 408,184.4 408.2,189.8 408.4,186.1 408.6,189 408.8,188.5 409,188.6 409.2,188.4 409.4,185.2 409.6,188 409.8,188.8 410,189.1 410.2,187.4 410.4,190.9 410.6,189.8 410.8,188.5 411,190 411.2,188.7 411.4,190.1 411.6,182.7 411.8,184.6 412,187.1 412.2,188.5 412.4,182.1 412.6,187.4 412.8,188.6 413,187.5 413.2,187.5 413.4,184.4 413.6,188.4 413.8,182.4 414,190.9 414.2,186.4 414.4,191.2 414.6,183.2 414.8,193 415,188.5 415.2,185.7 415.4,184.8 415.6,191.5 415.8,189.3 416,192.3 416.2,188 416.4,188.6 416.6,189.4 416.8,190.3 417,189.5 417.2,190.5 417.4,188.3 417.6,184.1 417.8,193.8 418,188.7 418.1,189.5 418.3,187 418.5,191.1 418.7,188.8 418.9,191.3 419.1,186.4 419.3,188.1 419.5,188.8 419.7,187.3 419.9,189.1 420.1,195.2 420.3,186.7 420.5,187.5 420.7,188.8 420.9,185.6 421.1,184.9 421.3,191.5 421.5,190.6 421.7,184 421.9,184.3 422.1,190.5 422.3,191.7 422.5,190.2 422.7,189.8 422.9,192.9 423.1,188.3 423.3,192 423.5,191.8 423.7,185.8 423.9,190.3 424.1,188.6 424.3,186.6 424.5,186.1 424.7,189.3 424.9,188.2 425.1,190.7 425.3,183.4 425.5,187.5 425.7,191.5 425.9,188.4 426.1,186.3 426.3,187 426.5,183.2 426.7,184.5 426.9,189.9 427.1,188.6 427.3,192 427.5,187.7 427.7,187.9 427.9,180.7 428.1,188.1 428.3,195.3 428.5,190.3 428.7,188 428.9,191.9 429.1,190.8 429.3,189.4 429.5,187.4 429.7,188.8 429.9,190.9 430.1,186.1 430.3,189.9 430.5,189.8 430.7,192.3 430.9,190.5 431.1,186.5 431.3,186.4 431.5,188.6 431.7,186.3 431.9,189.4 432.1,187.7 432.3,191.5 432.5,186.3 432.7,186.3 432.9,187.7 433.1,193.3 433.3,191.3 433.5,186.3 433.7,186.3 433.9,184.4 434.1,184.8 434.3,189 434.5,188.9 434.6,190.9 434.8,187.2 435,192.7 435.2,185.7 435.4,184.6 435.6,191.6 435.8,192.2 436,187.4 436.2,190.2 436.4,195.1 436.6,186.1 436.8,187.9 437,189.7 437.2,182.4 437.4,188 437.6,190.5 437.8,188.1 438,191.3 438.2,190.5 438.4,187.3 438.6,189.9 438.8,189.6 439,183.6 439.2,185.9 439.4,186.1 439.6,186.9 439.8,187 440,184.2 440.2,188.4 440.4,183.1 440.6,191.1 440.8,189.1 441,192.3 441.2,189.3 441.4,186.9 441.6,184.2 441.8,190.2 442,189 442.2,189.4 442.4,190.5 442.6,191.7 442.8,188.2 443,193.3 443.2,188 443.4,188.3 443.6,190.2 443.8,191.2 444,192.3 444.2,183 444.4,192.2 444.6,183.9 444.8,186.7 445,189.4 445.2,191.6 445.4,185.4 445.6,183.5 445.8,191 446,189.2 446.2,185.4 446.4,187.4 446.6,182.7 446.8,190 447,186.8 447.2,191.9 447.4,182.4 447.6,190.4 447.8,194.6 448,188.7 448.2,188.8 448.4,182.9 448.6,189.3 448.8,188.4 449,186.7 449.2,183.9 449.4,188.5 449.6,185.4 449.8,186.9 450,189.2 450.2,188.1 450.4,188.3 450.6,191 450.8,184.9 450.9,192.3 451.1,185 451.3,185.7 451.5,188.6 451.7,190.5 451.9,189 452.1,187 452.3,186.3 452.5,187.5 452.7,185.5 452.9,189.9 453.1,187.7 453.3,192.8 453.5,186.2 453.7,187.9 453.9,189.5 454.1,185.1 454.3,186.4 454.5,196.4 454.7,188.2 454.9,192.5 455.1,185.3 455.3,181.3 455.5,189.8 455.7,188.2 455.9,189.1 456.1,187.4 456.3,186.5 456.5,184.7 456.7,191.2 456.9,183.9 457.1,191 457.3,187.6 457.5,185.1 457.7,186.3 457.9,191 458.1,190.4 458.3,189.7 458.5,188.5 458.7,185.1 458.9,192 459.1,187 459.3,186.6 459.5,186.8 459.7,187 459.9,184.1 460.1,187 460.3,185.9 460.5,186.8 460.7,183.3 460.9,193.8 461.1,184.7 461.3,189.1 461.5,189.2 461.7,191.1 461.9,193.7 462.1,189.4 462.3,190.3 462.5,187 462.7,192.5 462.9,184.3 463.1,187.6 463.3,189.1 463.5,190.4 463.7,190.6 463.9,191.6 464.1,189.9 464.3,188.3 464.5,188.9 464.7,192.4 464.9,189.1 465.1,190.9 465.3,187.9 465.5,183.1 465.7,186.6 465.9,189.3 466.1,193 466.3,192.4 466.5,193.2 466.7,186.3 466.9,190.5 467.1,188.2 467.3,190.1 467.4,188.1 467.6,184.4 467.8,190.3 468,189.3 468.2,190.7 468.4,185.9 468.6,191.3 468.8,191.6 469,192.3 469.2,192.4 469.4,187 469.6,181.1 469.8,191.2 470,185.7 470.2,187.6 470.4,191.5 470.6,189.1 470.8,189 471,190.3 471.2,182.9 471.4,193.8 471.6,187.3 471.8,187.4 472,190 472.2,187.9 472.4,185.9 472.6,187.9 472.8,187.2 473,186.4 473.2,194.1 473.4,184.2 473.6,181.9 473.8,185.6 474,185.5 474.2,192.4 474.4,188.7 474.6,190.7 474.8,190 475,185.6 475.2,190.6 475.4,188.7 475.6,193.8 475.8,188.8 476,188.1 476.2,190.4 476.4,190.4 476.6,183 476.8,191.8 477,191.3 477.2,190.7 477.4,185 477.6,182.4 477.8,187.4 478,190.4 478.2,189.6 478.4,185.3 478.6,190.9 478.8,184.2 479,184.3 479.2,188.2 479.4,186.5 479.6,186.2 479.8,183.9 480,191.3 480.2,185 480.4,189.4 480.6,190.5 480.8,188.1 481,190.1 481.2,188.5 481.4,186.3 481.6,191 481.8,186.3 482,186.3 482.2,186.5 482.4,186.3 482.6,189.8 482.8,188.6 483,187.6 483.2,191.4 483.4,191.2 483.6,188.1 483.7,189.3 483.9,184 484.1,186.5 484.3,188.7 484.5,185.5 484.7,188.4 484.9,189.2 485.1,188 485.3,188.9 485.5,190.3 485.7,189.5 485.9,186.2 486.1,186.5 486.3,184.7 486.5,193.2 486.7,189.5 486.9,190.4 487.1,187.9 487.3,189.6 487.5,189.8 487.7,186.1 487.9,187.9 488.1,191.7 488.3,184.6 488.5,185.5 488.7,190 488.9,186 489.1,190.4 489.3,185.2 489.5,189 489.7,190.6 489.9,189.4 490.1,190.5 490.3,187.8 490.5,187.9 490.7,188.3 490.9,189.9 491.1,198.8 491.3,188.1 491.5,193.7 491.7,187.7 491.9,185.2 492.1,187.6 492.3,189.5 492.5,188.9 492.7,188.7 492.9,189.9 493.1,190 493.3,191 493.5,185 493.7,188.4 493.9,185.6 494.1,189.1 494.3,188.2 494.5,188.8 494.7,187 494.9,186 495.1,187.7 495.3,190.3 495.5,190.6 495.7,183.7 495.9,189.2 496.1,189.2 496.3,184.2 496.5,185.3 496.7,186.8 496.9,189.5 497.1,181.7 497.3,187.2 497.5,186.8 497.7,188.8 497.9,192.4 498.1,192.2 498.3,187.2 498.5,187.2 498.7,189 498.9,191.7 499.1,192.5 499.3,189.3 499.5,192.5 499.7,185.8 499.9,185.1 500.1,180.3 500.2,185.9 500.4,190 500.6,190.8 500.8,198.2 501,190.1 501.2,188.9 501.4,185.6 501.6,186.6 501.8,186.7 502,187.8 502.2,186.5 502.4,184.3 502.6,191.4 502.8,189.7 503,192.3 503.2,183.8 503.4,184.7 503.6,186.2 503.8,191.8 504,187.9 504.2,189 504.4,188.1 504.6,188.9 504.8,186.9 505,189.5 505.2,185.9 505.4,187.7 505.6,189.2 505.8,188.7 506,189.6 506.2,186.1 506.4,189.1 506.6,187.5 506.8,189.5 507,192.6 507.2,185.8 507.4,191.4 507.6,186.4 507.8,187.2 508,193.1 508.2,191 508.4,189.8 508.6,190.7 508.8,191.7 509,186.3 509.2,189 509.4,187.3 509.6,189.6 509.8,187.5 510,190.5 510.2,188.4 510.4,186.7 510.6,188.2 510.8,189.7 511,191.4 511.2,187.9 511.4,187.4 511.6,189.1 511.8,190.5 512,186.8 512.2,181.3 512.4,189.2 512.6,187.4 512.8,187.3 513,195.6 513.2,191.1 513.4,190.4 513.6,184.4 513.8,189.1 514,190.6 514.2,189 514.4,187.9 514.6,190 514.8,188.5 515,192.2 515.2,189 515.4,186.2 515.6,182.8 515.8,186.4 516,187.6 516.2,185 516.4,185.5 516.5,183.6 516.7,185.3 516.9,188.7 517.1,187.6 517.3,187.9 517.5,187.5 517.7,187.8 517.9,193.7 518.1,194.3 518.3,190.3 518.5,194.1 518.7,188.2 518.9,191.7 519.1,193.1 519.3,186.4 519.5,185.9 519.7,188.1 519.9,183.6 520.1,183 520.3,193.3 520.5,185.4 520.7,187.1 520.9,187.2 521.1,185.7 521.3,190.4 521.5,190 521.7,190.7 521.9,190.5 522.1,188.6 522.3,192 522.5,191.3 522.7,190.3 522.9,188.6 523.1,187.3 523.3,190.8 523.5,190.6 523.7,189.9 523.9,188.3 524.1,189.7 524.3,185.7 524.5,188.5 524.7,188.3 524.9,188.3 525.1,186.4 525.3,187.9 525.5,185.2 525.7,187.1 525.9,186.9 526.1,186.6 526.3,186.2 526.5,185.5 526.7,185.4 526.9,185 527.1,184.6 527.3,184.2 527.5,183.7 527.7,183.3 527.9,182.8 528.1,182.3 528.3,181.7 528.5,181.2 528.7,180.6 528.9,180 529.1,179.4 529.3,178.7 529.5,178 529.7,177.3 529.9,176.5 530.1,175.6 530.3,174.7 530.5,173.7 530.7,172.6 530.9,171.5 531.1,170.2 531.3,168.7 531.5,167.1 531.7,186.3 531.9,193.8 532.1,186.3 532.3,190 532.5,186.3 532.7,187.1 532.9,188.9 533,186.3 533.2,186.9 533.4,190 533.6,186.3 533.8,189.8 534,193.4 534.2,167.1 534.4,168.7 534.6,170.2 534.8,171.5 535,172.6 535.2,173.7 535.4,174.7 535.6,175.6 535.8,176.5 536,177.3 536.2,178 536.4,178.7 536.6,179.4 536.8,180 537,180.6 537.2,181.2 537.4,181.7 537.6,182.3 537.8,182.8 538,183.3 538.2,183.7 538.4,184.2 538.6,184.6 538.8,185 539,185.4 539.2,185.7 539.4,186.2 539.6,186.6 539.8,185.1 540,187.3 540.2,187.6 540.4,187.9 540.6,188.3 540.8,188.6 541,188.8 541.2,184 541.4,184.1 541.6,189.1 541.8,183.8 542,188.5 542.2,187.3 542.4,185.9 542.6,187.5 542.8,181.5 543,187.7 543.2,191.8 543.4,184.7 543.6,189.5 543.8,189.2 544,192.7 544.2,185.5 544.4,186 544.6,186.1 544.8,185.6 545,186.9 545.2,188.5 545.4,189.4 545.6,190.5 545.8,189.4 546,185.4 546.2,187.3 546.4,192.1 546.6,187.3 546.8,188.9 547,190.7 547.2,187.1 547.4,189.5 547.6,192.8 547.8,191.5 548,183.3 548.2,194.2 548.4,187.7 548.6,186.6 548.8,186.5 549,191.8 549.2,189.3 549.3,188 549.5,186.1 549.7,190.2 549.9,191.7 550.1,185.5 550.3,185.2 550.5,187.3 550.7,190.1 550.9,187.2 551.1,188.1 551.3,186 551.5,191.9 551.7,188 551.9,188.8 552.1,191.5 552.3,187.7 552.5,188.3 552.7,189.5 552.9,187.2 553.1,192.4 553.3,188.5 553.5,187.1 553.7,191 553.9,185.3 554.1,191.8 554.3,192.6 554.5,190.4 554.7,187.1 554.9,182.3 555.1,186.6 555.3,190.8 555.5,186.1 555.7,190.8 555.9,192.6 556.1,181 556.3,187.4 556.5,186.3 556.7,186.8 556.9,183.2 557.1,187.6 557.3,184.9 557.5,191.3 557.7,192.3 557.9,184.3 558.1,184.2 558.3,186.9 558.5,187.7 558.7,187.9 558.9,190.3 559.1,184 559.3,186.5 559.5,186.9 559.7,187.3 559.9,185.4 560.1,186.9 560.3,186.2 560.5,191.7 560.7,186.9 560.9,182.2 561.1,189.8 561.3,188.7 561.5,185.8 561.7,185.6 561.9,186.6 562.1,193 562.3,186.9 562.5,191.7 562.7,190.7 562.9,186.8 563.1,189.2 563.3,186.1 563.5,179.4 563.7,186.2 563.9,186.3 564.1,190.9 564.3,190.2 564.5,191.4 564.7,189.9 564.9,191.5 565.1,194 565.3,189 565.5,191.2 565.6,192.4 565.8,192.2 566,187.1 566.2,188.2 566.4,185.4 566.6,185.4 566.8,189.3 567,186.5 567.2,192.5 567.4,181.9 567.6,185 567.8,189 568,191.7 568.2,187.3 568.4,193.7 568.6,190.6 568.8,186.2 569,188.1 569.2,189.8 569.4,185.7 569.6,191.3 569.8,187.6 570,189.8 570.2,190.8 570.4,187 570.6,191.2 570.8,183 571,190 571.2,182.7 571.4,191.5 571.6,186.6 571.8,191.8 572,192.2 572.2,187.9 572.4,186.4 572.6,192 572.8,185 573,190.6 573.2,188 573.4,187.3 573.6,186.7 573.8,193.5 574,183.8 574.2,186.8 574.4,189.6 574.6,191.3 574.8,193.2 575,192.2 575.2,186.8 575.4,189.3 575.6,191.6 575.8,189.9 576,183.9 576.2,189.3 576.4,190 576.6,184.5 576.8,187.1 577,188.2 577.2,190.1 577.4,192.8 577.6,191.7 577.8,189.7 578,189 578.2,188.8 578.4,186.8 578.6,187.7 578.8,187.7 579,191.2 579.2,194.5 579.4,189.8 579.6,191.1 579.8,190.2 580,189.1 580.2,193.9 580.4,191.5 580.6,188.6 580.8,188 581,190.2 581.2,187.4 581.4,187.4 581.6,185.2 581.8,182.7 582,186.3 582.1,190.3 582.3,186.3 582.5,186.3 582.7,186.3 582.9,190.7 583.1,186.3 583.3,188 583.5,192.6 583.7,189 583.9,186.7 584.1,188.2 584.3,185 584.5,184.7 584.7,189.1 584.9,190.9 585.1,186.1 585.3,186.4 585.5,185.3 585.7,191.4 585.9,185.3 586.1,187 586.3,183.4 586.5,191.9 586.7,187.7 586.9,189.1 587.1,192.9 587.3,190.4 587.5,185.2 587.7,189.7 587.9,190.4 588.1,185.9 588.3,185.6 588.5,185.6 588.7,190.6 588.9,188.5 589.1,185.4 589.3,190.2 589.5,190.5 589.7,186 589.9,183.9 590.1,191.6 590.3,195.7 590.5,192.5 590.7,191.2 590.9,188.8 591.1,186.6 591.3,188.8 591.5,190.4 591.7,187.9 591.9,191.1 592.1,188.5 592.3,190.2 592.5,180.8 592.7,186 592.9,190.7 593.1,191.2 593.3,189.6 593.5,193 593.7,190.4 593.9,190.5 594.1,185.9 594.3,189.6 594.5,190.6 594.7,192.2 594.9,191.7 595.1,188.6 595.3,189 595.5,185.1 595.7,190.1 595.9,185.4 596.1,187.6 596.3,188.4 596.5,194.1 596.7,192 596.9,186.3 597.1,184.4 597.3,187.8 597.5,186.2 597.7,189.5 597.9,189.4 598.1,190.2 598.3,185.6 598.4,187.4 598.6,189 598.8,189.3 599,186.8 599.2,187.4 599.4,190.7 599.6,183.5 599.8,187.6 600,188.3 600.2,184.2 600.4,185.5 600.6,188.6 600.8,186.8 601,191.4 601.2,190.2 601.4,194.8 601.6,184.9 601.8,193.8 602,186.4 602.2,190.7 602.4,191.1 602.6,188.9 602.8,187.6 603,186.6 603.2,183.3 603.4,187.3 603.6,185.9 603.8,190.1 604,186.3 604.2,187.9 604.4,189.7 604.6,188.6 604.8,188.5 605,188.9 605.2,187.2 605.4,189.8 605.6,190.5 605.8,186.2 606,196.6 606.2,190.1 606.4,184 606.6,196 606.8,190.3 607,186.4 607.2,193 607.4,181 607.6,195.7 607.8,184.3 608,183.9 608.2,185.8 608.4,189 608.6,187.3 608.8,190.9 609,186.1 609.2,191.5 609.4,189.1 609.6,185.5 609.8,191.5 610,189.4 610.2,187.9 610.4,192.2 610.6,185.1 610.8,187.4 611,192.7 611.2,188.5 611.4,190.6 611.6,190.2 611.8,188.1 612,190.4 612.2,185.6 612.4,190.4 612.6,185.6 612.8,188.5 613,185.9 613.2,189.9 613.4,189.8 613.6,191.6 613.8,186.7 614,185.7 614.2,182.3 614.4,184.7 614.6,190.3 614.8,189 614.9,187.3 615.1,188.4 615.3,184.2 615.5,185.7 615.7,190.7 615.9,190.3 616.1,184.5 616.3,187.5 616.5,189 616.7,185 616.9,189.5 617.1,189.2 617.3,189.7 617.5,193.9 617.7,185.9 617.9,191.8 618.1,190 618.3,190.5 618.5,186.3 618.7,188.6 618.9,188.3 619.1,193.1 619.3,188.6 619.5,192.6 619.7,187.5 619.9,187.3 620.1,188.4 620.3,182.6 620.5,186.9 620.7,186.7 620.9,188 621.1,188.9 621.3,185.6 621.5,185.2 621.7,192.1 621.9,185.4 622.1,186.9 622.3,185.6 622.5,187 622.7,191.9 622.9,191.7 623.1,183.2 623.3,187.6 623.5,192.4 623.7,187.4 623.9,189.4 624.1,193.6 624.3,194.9 624.5,192.9 624.7,187.6 624.9,188.5 625.1,189.1 625.3,187.6 625.5,186.7 625.7,194.3 625.9,189.2 626.1,190.7 626.3,191.9 626.5,189.9 626.7,188.7 626.9,189.1 627.1,192.5 627.3,189.7 627.5,182.6 627.7,191.4 627.9,193.2 628.1,187.6 628.3,186.7 628.5,187 628.7,191.5 628.9,185.5 629.1,190.6 629.3,191.6 629.5,190.1 629.7,188.7 629.9,186.3 630.1,186.6 630.3,188.4 630.5,185.7 630.7,188.1 630.9,185.8 631.1,191.7 631.2,190 631.4,186.2 631.6,185.9 631.8,183.4 632,188.6 632.2,189.7 632.4,189.6 632.6,186.3 632.8,195.5 633,189.1 633.2,186.3 633.4,188.3 633.6,188.4 633.8,186.3 634,186.3 634.2,191.7 634.4,185.4 634.6,187.6 634.8,186.8 635,187.9 635.2,186.5 635.4,189.6 635.6,188.2 635.8,190.3 636,190.2 636.2,188.8 636.4,188.8 636.6,191.7 636.8,183.9 637,188.7 637.2,192.3 637.4,185.2 637.6,190.5 637.8,186.9 638,188.4 638.2,187.7 638.4,187.9 638.6,190 638.8,188.2 639,182.6 639.2,194.7 639.4,188.2 639.6,187.1 639.8,191.3 640,192.3 640.2,182.2 640.4,189.4 640.6,182.5 640.8,186.8 641,188.1 641.2,187 641.4,186.6 641.6,185 641.8,187.1 642,188 642.2,187.9 642.4,184.5 642.6,186 642.8,191.2 643,190.2 643.2,187.4 643.4,191.6 643.6,189.4 643.8,191.1 644,189.1 644.2,187.2 644.4,185.5 644.6,188.3 644.8,182.5 645,188.6 645.2,179.3 645.4,185.5 645.6,187 645.8,189.8 646,196.4 646.2,188.8 646.4,187.9 646.6,182.9 646.8,192.3 647,183 647.2,189.1 647.4,186.3 647.6,195.6 647.7,188 647.9,189.3 648.1,186.4 648.3,188.1 648.5,191.6 648.7,185.7 648.9,186.4 649.1,186.7 649.3,185.5 649.5,185.2 649.7,188.4 649.9,192.2 650.1,192.3 650.3,184.5 650.5,186.3 650.7,188.1 650.9,189.6 651.1,191.1 651.3,190.2 651.5,189.3 651.7,190.3 651.9,182.2 652.1,187.7 652.3,190.1 652.5,192.1 652.7,190.4 652.9,186.3 653.1,186.2 653.3,189 653.5,188.2 653.7,189.2 653.9,191.5 654.1,184.7 654.3,187.3 654.5,181.3 654.7,190.5 654.9,188.8 655.1,185.9 655.3,189.1 655.5,192.3 655.7,191.1 655.9,188.1 656.1,187.4 656.3,188.6 656.5,185.5 656.7,185.5 656.9,187.4 657.1,188.3 657.3,189.1 657.5,186.8 657.7,185.8 657.9,188.2 658.1,187.1 658.3,189.3 658.5,192.4 658.7,191.2 658.9,186.2 659.1,187.1 659.3,183.8 659.5,188.2 659.7,185.9 659.9,184.6 660.1,185.5 660.3,190.1 660.5,188.9 660.7,188 660.9,191.2 661.1,187 661.3,185.5 661.5,189.7 661.7,182.8 661.9,189.2 662.1,188.9 662.3,189 662.5,190.4 662.7,187.2 662.9,188.3 663.1,183.6 663.3,186.6 663.5,186.8 663.7,189 663.9,192.4 664,188.6 664.2,190.8 664.4,185.7 664.6,188.4 664.8,183.6 665,186.3 665.2,186 665.4,187.7 665.6,187.8 665.8,186.5 666,185.7 666.2,190.4 666.4,187 666.6,180.9 666.8,188.6 667,189.1 667.2,190.3 667.4,192.5 667.6,185 667.8,188.2 668,187.5 668.2,183.1 668.4,181.2 668.6,190.9 668.8,185.4 669,186.6 669.2,187.2 669.4,187 669.6,188.4 669.8,183.8 670,186.6 670.2,187.4 670.4,184.8 670.6,185.8 670.8,187 671,187.4 671.2,183.4 671.4,186.9 671.6,188.6 671.8,190.8 672,189.3 672.2,191.3" fill="none" stroke="#0000ff" stroke-width="1.15" stroke-linejoin="round"/>
<polyline points="523.8,187.8 524.1,187.8 524.4,187.8 524.7,187.8 524.9,187.8 525.2,187.8 525.5,187.6 525.8,187.2 526,186.7 526.3,186.2 526.6,185.6 526.8,185.1 527.1,184.5 527.4,183.9 527.7,183.3 527.9,182.6 528.2,181.9 528.5,181.2 528.8,180.4 529,179.5 529.3,178.6 529.6,177.6 529.8,176.6 530.1,175.4 530.4,174.1 530.7,172.7 530.9,171 531.2,169.1 531.5,166.9 531.7,164.2 531.8,163 532,161.6 532.1,160.1 532.2,158.3 532.3,156.2 532.4,153.7 532.5,150.6 532.6,146.4 532.7,140 532.8,126.1 532.8,41.7 532.9,126.1 533,140 533.1,146.4 533.2,150.6 533.3,153.7 533.4,156.2 533.5,158.3 533.6,160.1 533.7,161.6 533.8,163 533.9,164.2 534.2,166.9 534.5,169.1 534.8,171 535,172.7 535.3,174.1 535.6,175.4 535.9,176.6 536.1,177.6 536.4,178.6 536.7,179.5 536.9,180.4 537.2,181.2 537.5,181.9 537.8,182.6 538,183.3 538.3,183.9 538.6,184.5 538.9,185.1 539.1,185.6 539.4,186.2 539.7,186.7 539.9,187.2 540.2,187.6 540.5,187.8 540.8,187.8 541,187.8 541.3,187.8 541.6,187.8 541.8,187.8" fill="none" stroke="#0000ff" stroke-width="1.9" stroke-linejoin="round"/>
<polyline points="423.6,187.8 423.9,187.8 424.2,187.8 424.5,187.8 424.7,187.8 425,187.8 425.3,187.8 425.5,187.8 425.8,187.8 426.1,187.8 426.4,187.8 426.6,187.8 426.9,187.8 427.2,187.8 427.5,187.8 427.7,187.8 428,187.8 428.3,187.8 428.5,187.8 428.8,187.8 429.1,187.8 429.4,187.8 429.6,187.8 429.9,187.8 430.2,187.8 430.5,187.8 430.7,187.8 431,187.8 431.3,186.4 431.5,182.7 431.6,181.2 431.7,179.3 431.9,177.3 432,174.9 432.1,172.1 432.2,168.8 432.3,164.7 432.4,159.1 432.5,150.6 432.6,142.4 432.6,142.4 432.7,142.4 432.8,150.6 432.9,159.1 433,164.7 433.1,168.8 433.2,172.1 433.3,174.9 433.4,177.3 433.5,179.3 433.6,181.2 433.7,182.7 434,186.4 434.3,187.8 434.6,187.8 434.8,187.8 435.1,187.8 435.4,187.8 435.6,187.8 435.9,187.8 436.2,187.8 436.5,187.8 436.7,187.8 437,187.8 437.3,187.8 437.6,187.8 437.8,187.8 438.1,187.8 438.4,187.8 438.6,187.8 438.9,187.8 439.2,187.8 439.5,187.8 439.7,187.8 440,187.8 440.3,187.8 440.6,187.8 440.8,187.8 441.1,187.8 441.4,187.8 441.6,187.8" fill="none" stroke="#0000ff" stroke-width="1.4" stroke-linejoin="round"/>
<polyline points="473.7,187.8 474,187.8 474.3,187.8 474.6,187.8 474.8,187.8 475.1,187.8 475.4,187.8 475.7,187.8 475.9,187.8 476.2,187.8 476.5,187.8 476.7,187.8 477,187.8 477.3,187.8 477.6,187.8 477.8,187.8 478.1,187.8 478.4,187.8 478.6,187.8 478.9,187.8 479.2,187.8 479.5,187.8 479.7,187.8 480,187.8 480.3,187.8 480.6,187.8 480.8,187.8 481.1,187.8 481.4,186.2 481.6,182.5 481.7,181 481.9,179.1 482,177.1 482.1,174.7 482.2,172 482.3,168.6 482.4,164.5 482.5,158.9 482.6,150.4 482.7,132.7 482.7,132.7 482.8,132.7 482.9,150.4 483,158.9 483.1,164.5 483.2,168.6 483.3,172 483.4,174.7 483.5,177.1 483.6,179.1 483.7,181 483.8,182.5 484.1,186.2 484.4,187.8 484.7,187.8 484.9,187.8 485.2,187.8 485.5,187.8 485.8,187.8 486,187.8 486.3,187.8 486.6,187.8 486.8,187.8 487.1,187.8 487.4,187.8 487.7,187.8 487.9,187.8 488.2,187.8 488.5,187.8 488.7,187.8 489,187.8 489.3,187.8 489.6,187.8 489.8,187.8 490.1,187.8 490.4,187.8 490.7,187.8 490.9,187.8 491.2,187.8 491.5,187.8 491.7,187.8" fill="none" stroke="#0000ff" stroke-width="1.4" stroke-linejoin="round"/>
<polyline points="574,187.8 574.2,187.8 574.5,187.8 574.8,187.8 575,187.8 575.3,187.8 575.6,187.8 575.9,187.8 576.1,187.8 576.4,187.8 576.7,187.8 577,187.8 577.2,187.8 577.5,187.8 577.8,187.8 578,187.8 578.3,187.8 578.6,187.8 578.9,187.8 579.1,187.8 579.4,187.8 579.7,187.8 579.9,187.8 580.2,187.8 580.5,187.8 580.8,187.8 581,187.8 581.3,187.8 581.6,184.9 581.9,181.2 582,179.7 582.1,177.8 582.2,175.8 582.3,173.4 582.4,170.6 582.5,167.3 582.6,163.2 582.7,157.6 582.8,149.1 582.9,131.4 583,131.4 583,131.4 583.1,149.1 583.2,157.6 583.3,163.2 583.4,167.3 583.5,170.6 583.6,173.4 583.7,175.8 583.8,177.8 584,179.7 584.1,181.2 584.3,184.9 584.6,187.8 584.9,187.8 585.1,187.8 585.4,187.8 585.7,187.8 586,187.8 586.2,187.8 586.5,187.8 586.8,187.8 587.1,187.8 587.3,187.8 587.6,187.8 587.9,187.8 588.1,187.8 588.4,187.8 588.7,187.8 589,187.8 589.2,187.8 589.5,187.8 589.8,187.8 590,187.8 590.3,187.8 590.6,187.8 590.9,187.8 591.1,187.8 591.4,187.8 591.7,187.8 592,187.8" fill="none" stroke="#0000ff" stroke-width="1.4" stroke-linejoin="round"/>
<polyline points="624.1,187.8 624.3,187.8 624.6,187.8 624.9,187.8 625.1,187.8 625.4,187.8 625.7,187.8 626,187.8 626.2,187.8 626.5,187.8 626.8,187.8 627.1,187.8 627.3,187.8 627.6,187.8 627.9,187.8 628.1,187.8 628.4,187.8 628.7,187.8 629,187.8 629.2,187.8 629.5,187.8 629.8,187.8 630.1,187.8 630.3,187.8 630.6,187.8 630.9,187.8 631.1,187.8 631.4,187.8 631.7,185.4 632,181.8 632.1,180.2 632.2,178.4 632.3,176.3 632.4,174 632.5,171.2 632.6,167.9 632.7,163.7 632.8,158.1 632.9,149.6 633,141.4 633.1,141.4 633.1,141.4 633.2,149.6 633.3,158.1 633.4,163.7 633.5,167.9 633.6,171.2 633.7,174 633.8,176.3 634,178.4 634.1,180.2 634.2,181.8 634.4,185.4 634.7,187.8 635,187.8 635.2,187.8 635.5,187.8 635.8,187.8 636.1,187.8 636.3,187.8 636.6,187.8 636.9,187.8 637.2,187.8 637.4,187.8 637.7,187.8 638,187.8 638.2,187.8 638.5,187.8 638.8,187.8 639.1,187.8 639.3,187.8 639.6,187.8 639.9,187.8 640.2,187.8 640.4,187.8 640.7,187.8 641,187.8 641.2,187.8 641.5,187.8 641.8,187.8 642.1,187.8" fill="none" stroke="#0000ff" stroke-width="1.4" stroke-linejoin="round"/>
<rect x="391.5" y="221.1" width="2" height="1.8" fill="#222"/>
<rect x="426.6" y="8.5" width="2" height="1.6" fill="#111"/>
<rect x="426.6" y="221.1" width="2" height="1.8" fill="#222"/>
<rect x="461.7" y="8.5" width="2" height="1.6" fill="#111"/>
<rect x="461.7" y="221.1" width="2" height="1.8" fill="#222"/>
<rect x="496.8" y="8.5" width="2" height="1.6" fill="#111"/>
<rect x="496.8" y="221.1" width="2" height="1.8" fill="#222"/>
<rect x="531.9" y="8.5" width="2" height="1.6" fill="#111"/>
<rect x="531.9" y="221.1" width="2" height="1.8" fill="#222"/>
<rect x="566.9" y="8.5" width="2" height="1.6" fill="#111"/>
<rect x="566.9" y="221.1" width="2" height="1.8" fill="#222"/>
<rect x="602" y="8.5" width="2" height="1.6" fill="#111"/>
<rect x="602" y="221.1" width="2" height="1.8" fill="#222"/>
<rect x="637.1" y="8.5" width="2" height="1.6" fill="#111"/>
<rect x="637.1" y="221.1" width="2" height="1.8" fill="#222"/>
<rect x="672.2" y="221.1" width="2" height="1.8" fill="#222"/>
<rect x="672.2" y="69" width="1.6" height="1.8" fill="#444"/>
<rect x="672.2" y="106.8" width="1.6" height="1.8" fill="#444"/>
<rect x="672.2" y="144.7" width="1.6" height="1.8" fill="#444"/>
<rect x="672.2" y="182.5" width="1.6" height="1.8" fill="#444"/>
<rect x="391.8" y="27.3" width="1.4" height="1.8" fill="#444"/>
<rect x="391.8" y="67" width="1.4" height="1.8" fill="#444"/>
<rect x="391.8" y="105.9" width="1.4" height="1.8" fill="#444"/>
<rect x="391.8" y="143.9" width="1.4" height="1.8" fill="#444"/>
<rect x="391.8" y="183" width="1.4" height="1.8" fill="#444"/>
<rect x="391.8" y="221.5" width="1.4" height="1.8" fill="#444"/>
<line x1="532.7" y1="41.6" x2="595" y2="41.6" stroke="#000" stroke-width="2.1" stroke-dasharray="8.1 5.5"/>
<line x1="532.7" y1="131.2" x2="595" y2="131.2" stroke="#000" stroke-width="2.1" stroke-dasharray="8.1 5.5"/>
<line x1="556.3" y1="51.5" x2="556.3" y2="123.5" stroke="#000" stroke-width="1.6" stroke-dasharray="3.3 2.0"/>
<polygon points="556.3,44.5 552.7,52 559.9,52" fill="#000"/>
<polygon points="556.3,130.6 552.7,123.1 559.9,123.1" fill="#000"/>
<text x="560.4" y="95.9" font-size="10.4" text-anchor="start" font-weight="bold" stroke-width="0" >SMSR = 48 dB</text>
<text x="387.3" y="31.8" font-size="10" text-anchor="end" font-weight="bold" stroke-width="0" >&#8722;20</text>
<text x="387.3" y="71.5" font-size="10" text-anchor="end" font-weight="bold" stroke-width="0" >&#8722;40</text>
<text x="387.3" y="110.4" font-size="10" text-anchor="end" font-weight="bold" stroke-width="0" >&#8722;60</text>
<text x="387.3" y="148.4" font-size="10" text-anchor="end" font-weight="bold" stroke-width="0" >&#8722;80</text>
<text x="387.3" y="187.5" font-size="10" text-anchor="end" font-weight="bold" stroke-width="0" >&#8722;100</text>
<text x="387.3" y="226" font-size="10" text-anchor="end" font-weight="bold" stroke-width="0" >&#8722;120</text>
<text x="392.5" y="237.6" font-size="10" text-anchor="middle" font-weight="bold" stroke-width="0" >64.98</text>
<text x="427.6" y="237.6" font-size="10" text-anchor="middle" font-weight="bold" stroke-width="0" >64.985</text>
<text x="462.7" y="237.6" font-size="10" text-anchor="middle" font-weight="bold" stroke-width="0" >64.99</text>
<text x="497.8" y="237.6" font-size="10" text-anchor="middle" font-weight="bold" stroke-width="0" >64.995</text>
<text x="532.9" y="237.6" font-size="10" text-anchor="middle" font-weight="bold" stroke-width="0" >65</text>
<text x="567.9" y="237.6" font-size="10" text-anchor="middle" font-weight="bold" stroke-width="0" >65.005</text>
<text x="603" y="237.6" font-size="10" text-anchor="middle" font-weight="bold" stroke-width="0" >65.01</text>
<text x="638.1" y="237.6" font-size="10" text-anchor="middle" font-weight="bold" stroke-width="0" >65.015</text>
<text x="673.2" y="237.6" font-size="10" text-anchor="middle" font-weight="bold" stroke-width="0" >65.02</text>
<text x="533" y="253.5" font-size="10.5" text-anchor="middle" font-weight="bold" stroke-width="0" >Frequency (GHz)</text>
<text x="0" y="0" font-size="10.5" text-anchor="middle" font-weight="bold" stroke-width="0" transform="translate(353.7,115.3) rotate(-90)">Power (dBm)</text>
<text x="344.9" y="11" font-size="15.5" text-anchor="start" font-weight="bold" stroke-width="0" >b</text>
<line x1="112.5" y1="285.5" x2="112.5" y2="519.2" stroke="#bababa" stroke-width="2.3" stroke-dasharray="2.2 2.432"/>
<line x1="138.8" y1="285.5" x2="138.8" y2="519.2" stroke="#bababa" stroke-width="2.3" stroke-dasharray="2.2 2.432"/>
<line x1="157.5" y1="285.5" x2="157.5" y2="519.2" stroke="#bababa" stroke-width="2.3" stroke-dasharray="2.2 2.432"/>
<line x1="172" y1="285.5" x2="172" y2="519.2" stroke="#bababa" stroke-width="2.3" stroke-dasharray="2.2 2.432"/>
<line x1="183.8" y1="285.5" x2="183.8" y2="519.2" stroke="#bababa" stroke-width="2.3" stroke-dasharray="2.2 2.432"/>
<line x1="193.8" y1="285.5" x2="193.8" y2="519.2" stroke="#bababa" stroke-width="2.3" stroke-dasharray="2.2 2.432"/>
<line x1="202.5" y1="285.5" x2="202.5" y2="519.2" stroke="#bababa" stroke-width="2.3" stroke-dasharray="2.2 2.432"/>
<line x1="210.2" y1="285.5" x2="210.2" y2="519.2" stroke="#bababa" stroke-width="2.3" stroke-dasharray="2.2 2.432"/>
<line x1="262" y1="285.5" x2="262" y2="519.2" stroke="#bababa" stroke-width="2.3" stroke-dasharray="2.2 2.432"/>
<line x1="288.3" y1="285.5" x2="288.3" y2="519.2" stroke="#bababa" stroke-width="2.3" stroke-dasharray="2.2 2.432"/>
<line x1="307" y1="285.5" x2="307" y2="519.2" stroke="#bababa" stroke-width="2.3" stroke-dasharray="2.2 2.432"/>
<line x1="321.5" y1="285.5" x2="321.5" y2="519.2" stroke="#bababa" stroke-width="2.3" stroke-dasharray="2.2 2.432"/>
<line x1="333.3" y1="285.5" x2="333.3" y2="519.2" stroke="#bababa" stroke-width="2.3" stroke-dasharray="2.2 2.432"/>
<line x1="343.3" y1="285.5" x2="343.3" y2="519.2" stroke="#bababa" stroke-width="2.3" stroke-dasharray="2.2 2.432"/>
<line x1="352" y1="285.5" x2="352" y2="519.2" stroke="#bababa" stroke-width="2.3" stroke-dasharray="2.2 2.432"/>
<line x1="359.7" y1="285.5" x2="359.7" y2="519.2" stroke="#bababa" stroke-width="2.3" stroke-dasharray="2.2 2.432"/>
<line x1="411.5" y1="285.5" x2="411.5" y2="519.2" stroke="#bababa" stroke-width="2.3" stroke-dasharray="2.2 2.432"/>
<line x1="437.8" y1="285.5" x2="437.8" y2="519.2" stroke="#bababa" stroke-width="2.3" stroke-dasharray="2.2 2.432"/>
<line x1="456.5" y1="285.5" x2="456.5" y2="519.2" stroke="#bababa" stroke-width="2.3" stroke-dasharray="2.2 2.432"/>
<line x1="471" y1="285.5" x2="471" y2="519.2" stroke="#bababa" stroke-width="2.3" stroke-dasharray="2.2 2.432"/>
<line x1="482.8" y1="285.5" x2="482.8" y2="519.2" stroke="#bababa" stroke-width="2.3" stroke-dasharray="2.2 2.432"/>
<line x1="492.8" y1="285.5" x2="492.8" y2="519.2" stroke="#bababa" stroke-width="2.3" stroke-dasharray="2.2 2.432"/>
<line x1="501.5" y1="285.5" x2="501.5" y2="519.2" stroke="#bababa" stroke-width="2.3" stroke-dasharray="2.2 2.432"/>
<line x1="509.2" y1="285.5" x2="509.2" y2="519.2" stroke="#bababa" stroke-width="2.3" stroke-dasharray="2.2 2.432"/>
<line x1="561" y1="285.5" x2="561" y2="519.2" stroke="#bababa" stroke-width="2.3" stroke-dasharray="2.2 2.432"/>
<line x1="587.3" y1="285.5" x2="587.3" y2="519.2" stroke="#bababa" stroke-width="2.3" stroke-dasharray="2.2 2.432"/>
<line x1="606" y1="285.5" x2="606" y2="519.2" stroke="#bababa" stroke-width="2.3" stroke-dasharray="2.2 2.432"/>
<line x1="620.5" y1="285.5" x2="620.5" y2="519.2" stroke="#bababa" stroke-width="2.3" stroke-dasharray="2.2 2.432"/>
<line x1="632.3" y1="285.5" x2="632.3" y2="519.2" stroke="#bababa" stroke-width="2.3" stroke-dasharray="2.2 2.432"/>
<line x1="642.3" y1="285.5" x2="642.3" y2="519.2" stroke="#bababa" stroke-width="2.3" stroke-dasharray="2.2 2.432"/>
<line x1="651" y1="285.5" x2="651" y2="519.2" stroke="#bababa" stroke-width="2.3" stroke-dasharray="2.2 2.432"/>
<line x1="658.7" y1="285.5" x2="658.7" y2="519.2" stroke="#bababa" stroke-width="2.3" stroke-dasharray="2.2 2.432"/>
<line x1="217" y1="282.3" x2="217" y2="519.2" stroke="#d2d2d2" stroke-width="2.4"/>
<line x1="366.5" y1="282.3" x2="366.5" y2="519.2" stroke="#d2d2d2" stroke-width="2.4"/>
<line x1="516" y1="282.3" x2="516" y2="519.2" stroke="#d2d2d2" stroke-width="2.4"/>
<line x1="67.5" y1="283.6" x2="665.5" y2="283.6" stroke="#d2d2d2" stroke-width="2.4"/>
<line x1="67.5" y1="322.8" x2="665.5" y2="322.8" stroke="#d2d2d2" stroke-width="2.4"/>
<line x1="67.5" y1="362" x2="665.5" y2="362" stroke="#d2d2d2" stroke-width="2.4"/>
<line x1="67.5" y1="401.3" x2="665.5" y2="401.3" stroke="#d2d2d2" stroke-width="2.4"/>
<line x1="67.5" y1="440.5" x2="665.5" y2="440.5" stroke="#d2d2d2" stroke-width="2.4"/>
<line x1="67.5" y1="479.8" x2="665.5" y2="479.8" stroke="#d2d2d2" stroke-width="2.4"/>
<rect x="67.5" y="282.3" width="598" height="236.9" fill="none" stroke="#d2d2d2" stroke-width="2.4"/>
<clipPath id="cc"><rect x="67.5" y="282.3" width="598" height="236.9"/></clipPath>
<g clip-path="url(#cc)">
<polyline points="68,314.2 70,317.7 72,310.5 74,310.1 76,313.1 78,311.3 80,307.7 82,309.5 84,310.6 85.6,299.3 88,310.7 90,315.1 92,310.1 94,317.3 96,313.8 98,314.1 100,317.7 102,313.3 104,308.6 106,314.1 108,316.5 110,313.5 112,310.9 114,312.8 116,313.4 118,317.3 120,312.1 122,312.2 124,309.9 126,309.5 128,311.8 130,318.2 132,317.7 134,316.8 136,313.1 138,316.1 140,310.4 142,314 144,314.4 146,314 148,315.9 150,321.4 152,312.7 154,384.9 156,384.1 158,393.5 160,398.4 162,397.6 164,396.3 166,389.9 168,391.6 170,391.2 172,390.3 174,398.4 176,400.5 178,404.5 180,405.5 182,409.9 184,404.6 186,406.6 188,410.7 190,413.6 192,410 194,408 196,414 198,414.6 200,419.1 202,419 204,420.3 206,421.2 208,423.4 210,420.6 212,418.2 214,427.9 216,419.9 218,427.8 220,428.6 222,436.4 224,438.3 226,427 228,435 230,428.6 233,414.4 236,434.2 238,434.3 240,431.1 242,437.7 244,451.2 246,446.6 248,437.5 250,434.9 252,443.4 254,446.2 256,449.4 258,442.5 260,451.9 262,450.4 264,445.6 266,446.4 268,448.5 270,444.2 272,453.6 274,454.2 276,452 278,450.9 280,453.1 282,445 284,455.5 286,451.6 288,456.9 290,454.2 292,457.8 294,458.2 296,451.3 298,459.4 300,452.3 302,462.2 304,461.9 306,456.6 308,470.7 310,468.4 312,462.3 314,460.8 316,460.6 318,464.2 320,468.7 322,460.4 324,462.1 326,468.2 328,463.7 330,457.3 332,463.6 334,468.4 336,465.6 338,465.4 340,462.8 342,460.7 344,467.3 346,466.3 348,460.4 350,461.4 352,459.3 354,468.9 356,467.2 358,460.5 360,467.1 362,462.8 364,464.1 366,466.3 368,459.1 370,463.9 372,465.4 374,464.3 376,463 378,468.6 380,466.4 382,467.6 384,470 386,460.9 388,459.6 390,460.3 392,468.8 394,462.6 396,461.8 398,465.3 400,461.4 402,466.7 404,466.6 406,465.9 408,465.6 410,466.4 412,461.3 414,466.5 416,465 418,465.4 420,458.5 422,466 424,462.8 426,459.6 428,466.7 430,465.8 432,464.7 434,466.9 436,461.3 438,465 440,461.8 442,462.9 444,464 446,462.2 448,464.8 450,462.2 452,466.9 454,465.9 456,462.1 458,468.7 460,463.7 462,465.5 464,465.9 466,466.3 468,462.4 470,468.1 472,463.2 474,463.7 476,465.3 478,464.4 480,462.7 482,465 484,466.7 486,462.9 488,464.9 490,463.9 492,462.8 494,461.2 496,458.9 498,461.6 500,461.9 502,460.3 504,461.1 506,464.8 508,462.4 510,463.5 512,459.5 514,458.1 516,459.6 518,461.8 520,457.8 522,460.8 524,457.9 526,460.3 528,460.2 530,459.8 532,458.4 534,461.1 536,460.4 538,465.2 540,463.1 542,466.8 544,464 546,465.7 548,469.8 550,470 552,470.7 552.9,472.2 557.5,373.8 562.1,467.6 564,466.9 566,469.6 568,466.6 570,471.6 572,476.1 574,471.1 576,472.7 578,470.9 580,472.3 582,474.3 584,475 586,475.7 588,478.5 590,480.6 592,480.3 594,479.1 596,485.5 598,481.5 599,480.6 602.3,369.1 605.6,478.9 606,480.3 608,478.6 610,481 612,479.3 614,480.6 616,477.3 618,481.9 620,482.2 622,482.1 624,487.2 624.8,486.5 628.1,382.1 631.4,485.2 632,488.3 634,483.1 636,486.3 638,488.4 640,486.9 642,491 644,488.1 647.3,393.4 650.6,491.8 652,494.4 654,495.1 656,499.1 657.8,495.9 661.1,430.7 664.4,500.6 664.8,497.2" fill="none" stroke="#d62728" stroke-width="1.45" stroke-linejoin="round"/>
<polyline points="68,312.7 70,309.2 72,311.1 74,314.6 76,313.2 78,309.8 80,311.1 82,308.8 84,315 86,307.2 88,307.7 90,314.4 92,312.2 94,312.9 96,312.5 98,310 100,313 102,313.4 104,309.7 106,308.1 108,311.2 110,309.3 112,312.4 114,307.1 116,304.2 118,307.4 120,308.9 122,313 124,309.7 126,313.3 128,307.8 130,305.9 132,306.8 134,309.4 136,308.9 138,311.4 140,309.7 142,309.9 144,310.5 146,317.3 148,312.9 150,313.9 152,319.7 154,380.4 156,379 158,391.7 160,380.1 162,386.6 164,390 166,386.4 168,393.1 170,394.6 172,399.6 174,401 176,405 178,403.5 180,406.5 182,408.6 184,399.6 186,405 188,404.6 190,400.5 192,406.2 194,410.2 196,416.1 198,409.5 200,412.2 202,410.9 204,416.7 206,418.8 208,427 210,417 212,426.9 214,423.5 216,420.5 218,423.5 220,425.7 222,424.9 224,435.7 226,429.5 228,425.9 230,427.8 232,440.5 234,431.1 236,433.7 238,440.2 240,442.3 242,437.6 244,431.5 246,435.8 248,442.4 250,438.4 252,435.1 254,440.7 256,443 258,439.8 260,451.5 262,441.3 264,449.9 266,445.2 268,444.4 270,447.6 272,451.3 274,450.7 276,446.6 278,457.1 280,456.1 282,451.9 284,450.8 286,455.4 288,458.7 290,454.4 292,459.6 294,449.3 296,452.9 298,450.9 300,463.8 302,462.1 304,461.7 306,466.4 308,463.6 310,457.5 312,466.5 314,463.6 316,456 318,461.6 320,461 322,463.4 324,466.6 326,465.8 328,463.1 330,466.9 332,464.1 334,466.3 336,464.7 338,457.6 340,461.7 342,469.9 344,465.2 346,456.8 348,456.9 350,469.1 352,462.7 354,464.4 356,474.4 358,463.3 360,456.8 362,467.2 364,465.6 366,460.9 368,466.2 370,466.2 372,463.5 374,469.7 376,462.8 378,469.2 380,464.4 382,461.8 384,459.1 386,467.2 388,463.9 390,463.9 392,470.5 394,465 396,464 398,463 400,458.7 402,464.4 404,464.8 406,464.9 408,464.7 410,463.2 412,460.2 414,467.4 416,464.4 418,470.9 420,468.9 422,464 424,469.8 426,463.6 428,461.2 430,466.4 432,466 434,464.3 436,465.5 438,464.4 440,465.8 442,462.3 444,463.5 446,464.4 448,469 450,465.9 452,464.5 454,463.3 456,466.2 458,463.8 460,463.4 462,466.4 464,463.9 466,465.8 468,467.8 470,465.8 472,462.9 474,464.5 476,465 478,463.2 480,463.2 482,464 484,467.9 486,469 488,467 490,460.2 492,461.9 494,466.2 496,461.3 498,465.5 500,462.1 502,460.4 504,462.3 506,460.2 508,459.8 510,464.7 512,461.3 514,460 516,461.6 518,462.8 520,456.8 522,458.7 524,459.9 526,460.1 528,457.9 530,455 532,459.7 534,459.2 536,461 538,463.4 540,464.3 542,465.7 544,469.4 546,472.1 548,468.1 550,467.2 552,470.8 552.9,469.3 557.5,375.8 562.1,470.7 564,471.3 566,469.6 568,471.7 570,474.7 572,474.3 574,473.7 576,471.4 578,476.5 580,471.2 582,474.7 584,472.3 586,473.5 588,476.2 590,477.1 592,477.2 594,477.9 596,477.5 598,475.2 599,480.9 602.3,401.3 605.6,480 606,479.3 608,477.3 610,479.4 612,483.2 614,481.4 616,481.5 618,481.4 620,485 622,481.8 624,486.5 624.8,484.8 628.1,386.6 631.4,483.4 632,484.3 634,482.7 636,484.4 638,487.4 640,488.9 642,487.6 644,484.3 647.3,399.3 650.6,487.7 652,493.6 654,487.4 656,495.6 657.8,493.2 661.1,432.7 664.4,494.9 664.8,499" fill="none" stroke="#ff7f0e" stroke-width="1.45" stroke-linejoin="round"/>
<polyline points="68,305.2 70,325.4 72,317.4 74,322.7 76,313.5 78,321.6 80,317.5 82,317.5 84,323.2 86,313.1 88,322 90,321.5 92,319.3 94,315.1 96,321.6 98,313.2 100,321.9 102,322.9 104,320.3 106,322.4 108,325.7 110,324 112,321.5 114,316.5 116,321.2 118,320.5 120,330.1 122,323.2 124,322.4 126,316.1 128,316.7 130,322 132,320.6 134,322.7 136,325.1 138,322.5 140,323.9 142,321.5 144,320.3 146,323.4 148,318.8 150,326.8 152,323.3 154,379 156,387.4 158,378.3 160,378.4 162,375 164,382.4 166,380.9 168,382.3 170,392.8 172,386.9 174,395.3 176,389.9 178,389.1 180,391.9 182,401.9 184,389.2 186,395 188,393.9 190,402 192,402.4 194,394.4 196,404.8 198,407.2 200,408.6 202,404.1 204,414.8 206,410.8 208,413.8 210,401.7 212,407.9 214,412.4 216,412.7 218,415.5 220,417.6 222,417.8 224,411.8 226,420.9 228,422.1 230,421.2 232,418.1 234,423.1 236,430.2 238,427.2 240,428.6 242,434.2 244,432.5 246,428.9 248,432.2 250,424.8 252,430.5 254,434.3 256,433.6 258,437.5 260,437.3 262,432.8 264,436.6 266,444.2 268,442.8 270,436.4 272,443.4 274,441.1 276,436.6 278,442.2 280,443 282,444.2 284,439.5 286,446.7 288,449.3 290,445.2 292,440 294,445 296,441.2 298,442.8 300,451.7 302,447.8 304,448.8 306,448.9 308,444.9 310,444.7 312,447.6 314,446.4 316,453.4 318,448.8 320,456 322,454 324,457.7 326,449.4 328,455.5 330,451.2 332,458.4 334,452.9 336,450.8 338,453.2 340,452.8 342,452.8 344,453.4 346,454.4 348,455.9 350,449.6 352,452.9 354,452.6 356,451.7 358,456.7 360,456.9 362,456.7 364,446.9 366,453.2 368,450.1 370,457.7 372,453.3 374,451.8 376,453.7 378,448.7 380,452.8 382,452 384,448.5 386,447.1 388,450.6 390,452.7 392,452.1 394,448 396,454.1 398,453.8 400,453.6 402,448.4 404,450 406,453.4 408,453.1 410,451.3 412,452.6 414,453.9 416,453.4 418,451.8 420,452.8 422,451.5 424,452.3 426,453.1 428,450.5 430,450.5 432,455.9 434,451 436,452.6 438,453.8 440,450 442,451.1 444,450.5 446,452.8 448,448.2 450,450.8 452,453 454,448.1 456,453.6 458,449 460,452.6 462,453.3 464,453.6 466,454.2 468,454.1 470,451.6 472,452.6 474,455.8 476,452.3 478,455.8 480,452 482,454.1 484,453.8 486,451.1 488,457.7 490,449.3 492,447.8 494,451.9 496,453 498,455.7 500,452.3 502,454.9 504,455.2 506,456.4 508,452.1 510,453.3 512,457.9 514,455.4 516,458.1 518,453.4 520,458.3 522,456.4 525,472.7 528,454.8 530,458 532,462.5 534,459.8 536,463.6 538,453.8 540,456.1 542,466 544,464.3 546,453.5 548,459.7 550,463.8 552,460.7 552.9,462.7 557.5,366 562.1,466.6 564,467.6 566,466.9 568,471.2 570,465.8 572,470.7 574,475.7 576,472.9 578,474.5 580,473 582,474 584,475.2 586,478.7 588,476.3 590,479.3 592,473.6 594,482.3 596,480.5 598,481.8 599,479.3 602.3,397.4 605.6,488.7 606,490.4 608,486.7 610,487.2 612,487.7 614,484.3 616,490.2 618,487.7 620,488.9 622,488.6 624,493 624.8,490.2 628.1,390.5 631.4,493.6 632,498.6 634,493.9 636,499.8 638,494.6 640,494.2 642,500.2 644,500.1 647.3,408.3 650.6,499.5 652,501.7 654,502.7 656,500 657.8,505.7 661.1,416.4 664.4,507.3 664.8,502.1" fill="none" stroke="#2ca02c" stroke-width="1.45" stroke-linejoin="round"/>
<polyline points="68,312.7 70,303.3 72,309.5 74,308.5 76,310 78,311.3 80,304.4 82,314.5 84,314.9 86,316 88,310.5 90,316.6 92,315.7 94,312.3 96,313.1 98,320.3 100,309.8 102,315.8 104,313.2 106,315.6 108,310.2 110,318.3 112,319.4 114,315.3 116,311.5 118,316.9 120,313.3 122,310.7 124,322.4 126,311.4 128,312.4 130,318.8 132,317.1 134,318.7 136,313.6 138,319.3 140,314.3 142,311.8 144,324.5 146,316.3 148,318.7 150,320.7 152,321 154,386 156,392.3 158,389.3 160,387.8 162,391.3 164,394.3 166,380.6 168,386.2 170,388.3 172,394.5 174,404.5 176,398.9 178,396.7 180,401.5 182,403 184,400.4 186,394.8 188,403.3 190,405.6 192,410.4 194,403.3 196,409.3 198,412.3 200,414.8 202,416.4 204,413.8 206,407.5 208,415.5 210,414.2 212,419.7 214,416.2 216,423.3 218,413.7 220,422.7 222,420.5 224,423.6 226,420.5 228,425.3 230,426.8 232,436.7 234,435.9 236,436.2 238,436.2 240,436 242,431 244,435.8 246,436.9 248,441.6 250,442.9 252,444.2 254,435.2 256,438.4 258,435.9 260,437.4 262,441.2 264,437.9 266,445.4 268,435.7 270,438.6 272,438.4 274,439.3 276,438 278,441.4 280,441 282,444 284,442.9 286,441.4 288,439.8 290,444.8 292,449 294,451.3 296,446.3 298,448.6 300,444.7 302,441.8 304,450.7 306,444.1 308,445.1 310,453.2 312,451.6 314,447.8 316,453.2 318,454 320,448.1 322,452.9 324,453.2 326,449 328,450.8 330,450.2 332,446.1 334,446.5 336,456.3 338,447.6 340,450.5 342,449.4 344,447.7 346,444.5 348,447.7 350,450.5 352,448.7 354,454.7 356,448.3 358,449.2 360,453.4 362,454 364,453.7 366,452.1 368,448 370,450.1 372,451.5 374,450.3 376,445.9 378,450.2 380,451.6 382,443.3 384,451.5 386,447.8 388,446.7 390,448.6 392,449.5 394,445.5 396,448.4 398,447.1 400,448.7 402,444.6 404,451 406,451.9 408,451 410,449.2 412,449.6 414,448.8 416,450.6 418,448.1 420,452.4 422,452.1 424,450 426,451 428,451.3 430,450.9 432,451.2 434,449.1 436,448.3 438,447.3 440,449.6 442,451.4 444,452.2 446,452.1 448,452.8 450,448.4 452,446 454,449.3 456,448.4 458,452.9 460,448.5 462,449.4 464,447.9 466,449.3 468,449 470,449 472,448.7 474,443.7 476,446.5 478,450.8 480,448.6 482,449 484,444.5 486,452.2 488,447.6 490,447.4 492,445 494,446.1 496,449.8 498,452.8 500,451.8 502,451.3 504,450.5 506,451.6 508,453 510,449.3 512,450.4 514,451.6 516,452 518,452.6 520,453.7 522,447.1 524,453 526,453.9 528,450.1 530,454.1 532,453 534,455.8 536,454.9 538,457.9 540,453.6 542,450.5 544,454.5 546,454.9 548,454.1 550,455.2 552,461.6 552.9,459.5 557.5,378.9 562.1,456.5 564,461.2 566,460.6 568,457.6 570,464.7 572,464.2 574,464.4 576,464.8 578,465.3 580,467.8 582,464.9 584,470.8 586,464.9 588,470.5 590,470.3 592,476.1 594,473.3 596,478.2 598,479.7 599,476.9 602.3,392.1 605.6,473.9 606,472.9 608,474.9 610,477.8 612,480.1 614,473.5 616,475.3 618,473.5 620,473.3 622,472.9 624,481.3 624.8,473.9 628.1,394.8 631.4,485.2 632,492.5 634,483.6 636,490.2 638,483.5 640,485.7 642,487.2 644,489 647.3,408.3 650.6,494.4 652,493.9 654,497.8 656,494.5 657.8,496.3 661.1,426.4 664.4,498.1 664.8,496" fill="none" stroke="#1f77b4" stroke-width="1.45" stroke-linejoin="round"/>
<polyline points="67.6,393 69.4,399.7 70.5,396.6 72.1,405.4 73.6,391.7 76.6,406.8 78.6,401.5 79.7,400.5 82.6,404.2 84,385 86.7,391.7 88.5,389.3 91.6,400.5 93.9,361.6 95.6,411.7 99.2,404.6 101.9,403.2 105.1,411.3 107.3,407.2 108.4,410.5 112.3,394.6 114.1,405.4 115.9,406.4 118.6,410.9 121.5,398.7 124,409.9 127.4,373 130.4,409.4 132.4,405.8 134.4,403.9 136.4,410.8 138.4,411.9 140.4,407.9 142.4,409.8 144.4,406.2 146.4,402.5 148.5,391.5 150.4,403.9 152.4,404.7 154.4,417.6 156.4,406.7 158.4,408.9 160.4,410.3 162.4,409 164.4,413.4 166.4,414.5 168.4,418.4 170.4,415 172.4,417.3 174.4,415.5 177,405.2 178.4,410.6 180.4,412.9 182.4,417 184.4,411.7 186.4,410.5 188.4,414.3 190.4,415.1 192.4,416.2 194.4,419.7 196,407.2 198.4,415 200.4,417.5 202.4,420 204.4,420.7 206.4,421.8 208.4,417.6 210.4,423.8 212.4,428.9 214.4,424.1 216.4,422.1 218.4,422.8 220.4,426.1 222.4,429.9 224.4,418.8 226.4,428.1 228.4,424.8 230.4,425.8 233,420.9 234.4,427.4 236.4,426.8 238.4,428.9 240.4,428.5 242.4,428.2 244.4,427.9 246.4,421 248.4,432.1 250.4,426.4 252.4,429.4 254.4,430.7 256.4,433.6 258.4,429.4 260.4,432.2 262.4,428.1 265,422.9 266.4,428 268.4,433 270.4,426.4 272.4,430.7 274.4,430.5 276.4,430.2 278.4,432.5 281,426.8 282.4,429.2 284.4,427.8 286.4,432.5 288.4,430.9 290.4,428.9 292.4,432.5 294.4,435 296.4,432.4 298.4,435 300.4,436 302.4,438.6 304.4,436.2 306.4,438.3 308.4,436.8 310.4,441.4 312,430.7 314.4,440.4 316.4,436.1 318.4,435.9 320.4,438.7 322.4,439.3 324.4,444.3 326.4,439.7 328.4,441.7 330.4,444.3 332.4,442.1 334.4,442 336.4,438.8 338.4,439.5 340.4,435.3 342.4,436.5 344.4,439.5 346.4,438.2 348.4,443.3 350.4,436.9 352.4,440.6 354.4,439 356.4,438.4 358.4,439.2 360.4,440.7 362.4,437 364.4,436.9 366.4,447.3 368.4,441.2 370.4,439.8 372.4,441.1 374.4,438.7 376.4,436.5 378.4,438.7 380.4,439.6 382.4,435.8 384.4,437.9 386.4,438.1 388.4,432.5 390.4,435.5 392.4,441.9 394.4,434.6 396.4,441 398.4,438.1 400.4,444.5 402.4,435.8 404.4,444.4 406.4,437.8 408.4,432.8 410.4,437.6 412.4,439.5 414.4,442.8 416.4,440.8 418.4,437.3 420.4,447.3 422.4,443.7 424.4,436.7 426.4,442 428.4,437.3 430.4,438.9 432.4,443.7 434.4,441.6 436.4,436.9 438.4,442.3 440.4,441.5 442.4,439.9 444.4,443.3 446.4,442.5 448.4,440.1 450.4,442.2 452.4,441.6 454.4,439.6 456.4,436.1 458.4,441.7 460.4,443.2 462.4,432.5 464.4,438.4 466.4,447 468.4,442.7 470.4,446.2 472.4,439.2 474.4,445.1 476.4,443.3 478.4,437.1 480.4,444.1 482.4,442.3 484.4,441.4 486.4,439.7 488.4,439.8 490.4,438.6 492.4,445.2 494.4,442.1 496.4,448.7 498.4,443.9 500.4,444.6 502.4,439.1 504.4,443.5 506.4,445.7 508.4,445.9 510.4,447.7 512.4,446.7 514.4,447.5 516.4,445.3 518.4,446.6 520.4,444.4 522.4,441.1 524.4,447 526.4,445.5 528.4,446.6 530.4,436.9 532.4,438.9 534.4,443.2 536.4,445.4 538.4,449.2 540.4,444.5 542.4,448 544.4,448 546.4,448.9 548.4,456.9 550.4,452.9 552.4,448.1 554.4,443.5 556.4,447.8 558.4,445 560.4,447.1 562.4,449.9 564.4,446.1 566.4,452.3 568.4,453.8 570.4,446.7 572.4,448.5 574.4,453 576.4,451.6 578.4,457.8 580.4,457.8 582.4,457.2 584.4,458.3 586.4,459 588.4,465.3 590.4,460.2 592.4,467.1 594.4,465.4 596.4,459.1 598.4,464.5 600.4,468.8 602.4,466.6 604.4,469.7 606.4,469.9 608.4,471.3 610.4,471.1 612.4,471.2 614.4,470.5 616.4,467.3 618.4,472.6 620.4,473.8 622.4,478.3 624.4,472.5 626.4,476.2 628.4,473 630.4,477.7 632.4,474 634.4,480.5 636.4,480.3 638.4,480.3 640.4,480.9 642.4,479.7 644.4,480.5 646.4,486.7 648.4,485 650.4,484.7 652.4,481.7 654.4,484.6 656.4,482.5 658.4,483.1 660.4,484.7 662.4,491 664.4,481.1 664.8,484.9" fill="none" stroke="#9467bd" stroke-width="1.45" stroke-linejoin="round"/>
</g>
<rect x="299.2" y="422.2" width="147.9" height="68.2" fill="none" stroke="#000" stroke-width="1.8" stroke-dasharray="6.3 4.9"/>
<line x1="373.2" y1="422.2" x2="373.2" y2="396.5" stroke="#000" stroke-width="1.6" stroke-dasharray="5.7 5.4"/>
<line x1="373.2" y1="400" x2="373.2" y2="396" stroke="#000" stroke-width="1.6"/>
<polygon points="373.2,389.7 369.3,397 377.1,397" fill="#000"/>
<clipPath id="ci"><rect x="309.3" y="302.3" width="127.9" height="85.7"/></clipPath>
<g clip-path="url(#ci)">
<polyline points="309.3,353.9 311.2,358.8 313.1,354.9 315,358.1 316.9,365.6 318.8,355.9 320.7,361 322.6,358 324.5,353 326.4,359.5 328.3,365 330.2,363.4 332.1,356.4 334,366.6 335.9,359.5 337.8,359 339.7,365.3 341.6,359.9 343.5,358.2 345,364.4 346.5,363.1 348,357 349.6,368.9 352,346.9 354.1,365.9 355.6,353.2 357.2,359 358.7,369.1 360.2,359.3 361.7,346.1 363.2,369.4 364.8,353.5 366.3,353.8 367.8,360 369.3,354.6 370.8,363.1 372,381.1 373.9,348 375.4,346.7 376.9,363.9 378.4,359.4 380,357 381.5,361.9 383,355.5 384.5,364.6 386,354 387.6,359.7 389.1,358 390.6,354.6 392.1,351.6 393.6,364.1 395.2,352.5 396.7,351.9 398.2,358.4 399.7,347.7 401.2,362.5 402.8,361.1 404.3,355.1 405.8,361.9 407.3,348.6 408.8,356.2 410.4,346.5 411.9,364.2 413.4,363.5 414.9,348.9 416.4,364 418,350.6 419.5,362.5 421,355.7 422.5,350 424,357.7 425.6,364.5 427.1,360.3 428.6,350.1 430.1,356 431.6,352.8 433.2,356.6 434.7,355.4 436.2,358.3 437.2,363.4" fill="none" stroke="#d62728" stroke-width="1.05" stroke-linejoin="round"/>
<polyline points="309.3,353.4 311.2,356 313.1,366.1 315,359.1 316.9,356.3 318.8,353.6 320.7,367.8 322.6,361.6 324.5,359.7 326.4,358.7 328.3,364.6 330.2,359.5 332.1,363.2 334,361.5 335.9,363.4 337.8,359.8 339.7,362.5 341.6,359.6 343.5,361 345,355.8 346.5,350.5 348,361.2 349.6,366.4 351.1,362.7 352.6,365.1 354.1,374 355.6,360.9 357.2,365 358.7,354.2 361,379.4 363.2,362.4 364.8,354.4 366.3,355.7 367.8,365.5 369.3,364.3 370.8,365.8 372.4,365.4 373.9,355.7 375.4,366 376.9,365.3 378.4,368.3 380,351.8 381.5,365 383,363.4 384.5,368.7 386,360.4 387.6,368 390,381.1 392.1,366.9 393.6,377 395.2,374 396.7,360.5 398.2,356.3 399.7,374 401.2,360.6 402.8,360.4 404.3,339.7 405.8,368.8 407.3,366.5 408.8,369.1 410,380.5 411.9,355.6 413.4,354 414.9,363.3 416.4,350.6 418,346.4 419.5,364.5 421,357.3 422.5,362.5 424,365.5 425.6,364.3 427.1,362.6 428.6,369.9 430.1,361.5 431.6,355.3 433.2,367.3 434.7,364.3 436.2,366.9 437.2,358.1" fill="none" stroke="#ff7f0e" stroke-width="1.05" stroke-linejoin="round"/>
<polyline points="309.3,338.6 311.4,335.5 313.5,339.3 315.6,342.9 317.7,336.6 319.8,339.2 321.9,334.8 324,336.1 326.1,346.4 328.2,344.4 330.3,338.4 332.4,341.9 334.5,347.6 336.6,343.4 338.7,338.8 340.8,340.8 343,355.4 345,342.7 346,352 348.4,336.7 350,332 351.7,339.3 353.4,327.3 355.1,342.5 356.8,325.2 358.4,328.7 360.1,334.8 361.8,336.6 363.5,337.7 365.2,343.5 366.8,331.9 368.5,330.1 370.2,333 371.9,336 373.6,337 375.2,343.1 376.9,341.4 378.6,346.1 380.3,334.6 382,342.7 383.6,332.4 385.3,341.2 387,328.9 388.7,328 390.4,328.2 392,330.4 393.7,338.8 395.4,338.8 397.1,341.3 398.8,335 400.4,327.2 402.1,343.1 403.8,322.9 405.5,340 407.2,343.4 408.8,334.7 410.5,330.5 412.2,338.6 413.9,342.3 415.6,326.6 417.2,342.7 418.9,330.8 420.6,335.5 422.3,338.4 424,336 425.6,342.3 427.3,342.4 429,334.4 430.7,341.8 432.4,340.3 434,328 435.7,326.1 437.2,329.8" fill="none" stroke="#2ca02c" stroke-width="1.05" stroke-linejoin="round"/>
<polyline points="309.3,330.5 311.4,334.4 313.5,333.8 315.6,336.7 317.7,343.5 319.8,334.7 321.9,335 324,333.1 326.1,340.2 328.2,333.4 330.3,339 332.4,341.3 334.5,338.4 336.6,334.9 338.7,338 340.8,336.7 342.9,341 344.5,314.3 346.7,326.1 348.4,323.5 350,333.5 351.7,326.5 353.4,336.4 355.1,328 356.8,337.7 358.4,327.5 360.1,330 361.8,336.3 363.5,328.4 365.2,336 366.8,330.3 368.5,336 370.2,328.3 371.9,334.5 373.6,323.8 375.2,329.4 376.9,329.2 378.6,339.6 380.3,343.9 382,336.9 383.6,322.6 385.3,337.7 387,325.9 388.7,325.7 390.4,335.8 392,333.8 393.7,325.5 395.4,334.1 397.1,334.9 398.8,335.9 400.4,332.3 402.1,333.3 403.8,326 405.5,331.5 407.2,326.3 408.8,333.4 410.5,319.1 412.2,333.5 413.9,333.7 415.6,337.3 417.2,342.2 418.9,337.7 420.6,331.8 422.3,338.4 424,328.4 425.6,341.9 427.3,342.2 429,331.4 430.7,331 432.4,339.3 434,327.2 435.7,325.5 437.2,331.1" fill="none" stroke="#1f77b4" stroke-width="1.05" stroke-linejoin="round"/>
<polyline points="309.3,317.8 311.3,312.3 313.3,316.6 315.3,316.9 317.3,316 319.3,319.4 321.3,314.7 323.3,320.4 325.3,316.9 327.3,318.1 329.3,316.2 331.3,319.6 333.3,319.2 335.3,322.7 337.3,322.8 339.3,324.1 341.3,321.6 343.5,312.6 345,327.4 346.6,318.9 348.2,327.5 349.8,335.6 351.4,332.3 353,319.8 354.6,330.9 356.2,323.6 357.8,338.2 359.4,324.4 361,322.2 362.6,323.9 364.2,322 365.8,333.8 367.4,338.2 369,335.8 370.6,321.5 372.2,324.3 373.8,321.6 375,309.2 377,330.5 378.6,321.5 380.2,336.9 381.8,324 383.4,333.4 385,329.4 386.6,322.2 388.2,320.7 389.8,327.4 391.4,328.6 393,317.5 394.6,319.5 396.2,330.5 397.8,324.2 400,312.6 401,327.3 402.6,319.7 404.2,322.9 405.8,323 407.4,325.1 409,329.1 410.6,318.7 412.2,323 413.8,340.1 415.4,327.9 417,323.8 418.6,330 420.2,331.1 421.8,329.3 423.4,323.1 425,331.2 426.6,322.9 428.2,316.7 429.8,319.3 431.4,319 433,326.3 434.6,317.7 436.2,324.8 437.2,319.5" fill="none" stroke="#9467bd" stroke-width="1.05" stroke-linejoin="round"/>
</g>
<rect x="309.3" y="302.3" width="127.9" height="85.7" fill="none" stroke="#4a4a4a" stroke-width="0.95"/>
<rect x="439.8" y="304.3" width="2.2" height="0.9" fill="#555"/>
<text x="304.8" y="306" font-size="9" text-anchor="end" font-weight="bold" stroke-width="0" >&#8722;95</text>
<rect x="439.8" y="321.4" width="2.2" height="0.9" fill="#555"/>
<text x="304.8" y="323.1" font-size="9" text-anchor="end" font-weight="bold" stroke-width="0" >&#8722;100</text>
<rect x="439.8" y="338.6" width="2.2" height="0.9" fill="#555"/>
<text x="304.8" y="340.3" font-size="9" text-anchor="end" font-weight="bold" stroke-width="0" >&#8722;105</text>
<rect x="439.8" y="355.7" width="2.2" height="0.9" fill="#555"/>
<text x="304.8" y="357.4" font-size="9" text-anchor="end" font-weight="bold" stroke-width="0" >&#8722;110</text>
<rect x="439.8" y="372.9" width="2.2" height="0.9" fill="#555"/>
<text x="304.8" y="374.6" font-size="9" text-anchor="end" font-weight="bold" stroke-width="0" >&#8722;115</text>
<rect x="439.8" y="390" width="2.2" height="0.9" fill="#555"/>
<text x="304.8" y="391.7" font-size="9" text-anchor="end" font-weight="bold" stroke-width="0" >&#8722;120</text>
<rect x="66.8" y="282.8" width="1.4" height="1.6" fill="#444"/>
<rect x="66.8" y="322" width="1.4" height="1.6" fill="#444"/>
<rect x="66.8" y="361.2" width="1.4" height="1.6" fill="#444"/>
<rect x="66.8" y="400.5" width="1.4" height="1.6" fill="#444"/>
<rect x="66.8" y="439.7" width="1.4" height="1.6" fill="#444"/>
<rect x="66.8" y="479" width="1.4" height="1.6" fill="#444"/>
<rect x="66.8" y="518.2" width="1.4" height="1.6" fill="#444"/>
<rect x="67.5" y="281.2" width="5.5" height="1.5" fill="#222"/>
<rect x="659.5" y="281.0" width="6" height="1.5" fill="#222"/>
<rect x="664.2" y="281.0" width="1.5" height="3" fill="#222"/>
<rect x="659.7" y="518.6" width="5.5" height="1.6" fill="#222"/>
<rect x="664.6" y="321.5" width="1.4" height="1.8" fill="#444"/>
<rect x="664.6" y="360.7" width="1.4" height="1.8" fill="#444"/>
<rect x="664.6" y="400" width="1.4" height="1.8" fill="#444"/>
<rect x="664.6" y="439.2" width="1.4" height="1.8" fill="#444"/>
<rect x="664.6" y="478.5" width="1.4" height="1.8" fill="#444"/>
<line x1="530.8" y1="299.6" x2="569.8" y2="299.6" stroke="#d62728" stroke-width="1.4"/>
<text x="574.2" y="302.8" font-size="8.95" text-anchor="start" font-weight="bold" stroke-width="0" >OEO 40 GHz</text>
<line x1="530.8" y1="312.6" x2="569.8" y2="312.6" stroke="#ff7f0e" stroke-width="1.4"/>
<text x="574.2" y="315.8" font-size="8.95" text-anchor="start" font-weight="bold" stroke-width="0" >OEO 50 GHz</text>
<line x1="530.8" y1="325.6" x2="569.8" y2="325.6" stroke="#2ca02c" stroke-width="1.4"/>
<text x="574.2" y="328.8" font-size="8.95" text-anchor="start" font-weight="bold" stroke-width="0" >OEO 60 GHz</text>
<line x1="530.8" y1="338.6" x2="569.8" y2="338.6" stroke="#1f77b4" stroke-width="1.4"/>
<text x="574.2" y="341.8" font-size="8.95" text-anchor="start" font-weight="bold" stroke-width="0" >OEO 65 GHz</text>
<line x1="530.8" y1="351.6" x2="569.8" y2="351.6" stroke="#9467bd" stroke-width="1.4"/>
<text x="574.2" y="354.8" font-size="8.95" text-anchor="start" font-weight="bold" stroke-width="0" >Keysight 50 GHz</text>
<text x="61" y="287.2" font-size="10" text-anchor="end" font-weight="bold" stroke-width="0" >&#8722;20</text>
<text x="61" y="326.4" font-size="10" text-anchor="end" font-weight="bold" stroke-width="0" >&#8722;40</text>
<text x="61" y="365.6" font-size="10" text-anchor="end" font-weight="bold" stroke-width="0" >&#8722;60</text>
<text x="61" y="404.9" font-size="10" text-anchor="end" font-weight="bold" stroke-width="0" >&#8722;80</text>
<text x="61" y="444.1" font-size="10" text-anchor="end" font-weight="bold" stroke-width="0" >&#8722;100</text>
<text x="61" y="483.4" font-size="10" text-anchor="end" font-weight="bold" stroke-width="0" >&#8722;120</text>
<text x="61" y="522.6" font-size="10" text-anchor="end" font-weight="bold" stroke-width="0" >&#8722;140</text>
<text x="68.5" y="537.6" font-size="10.4" font-weight="normal" stroke-width="0.45" text-anchor="middle">10<tspan font-size="7.0" dx="0.2" dy="-4.6">2</tspan></text>
<text x="218" y="537.6" font-size="10.4" font-weight="normal" stroke-width="0.45" text-anchor="middle">10<tspan font-size="7.0" dx="0.2" dy="-4.6">3</tspan></text>
<text x="367.5" y="537.6" font-size="10.4" font-weight="normal" stroke-width="0.45" text-anchor="middle">10<tspan font-size="7.0" dx="0.2" dy="-4.6">4</tspan></text>
<text x="517" y="537.6" font-size="10.4" font-weight="normal" stroke-width="0.45" text-anchor="middle">10<tspan font-size="7.0" dx="0.2" dy="-4.6">5</tspan></text>
<text x="666.5" y="537.6" font-size="10.4" font-weight="normal" stroke-width="0.45" text-anchor="middle">10<tspan font-size="7.0" dx="0.2" dy="-4.6">6</tspan></text>
<text x="361.7" y="555" font-size="10.5" text-anchor="middle" font-weight="bold" stroke-width="0" >Frequency offset (Hz)</text>
<text x="0" y="0" font-size="10.5" text-anchor="middle" font-weight="bold" stroke-width="0" transform="translate(29.2,400.4) rotate(-90)">Phase noise (dBc/Hz)</text>
<text x="-0.5" y="281.5" font-size="15.5" text-anchor="start" font-weight="bold" stroke-width="0" >c</text>
</svg>
</body></html>
